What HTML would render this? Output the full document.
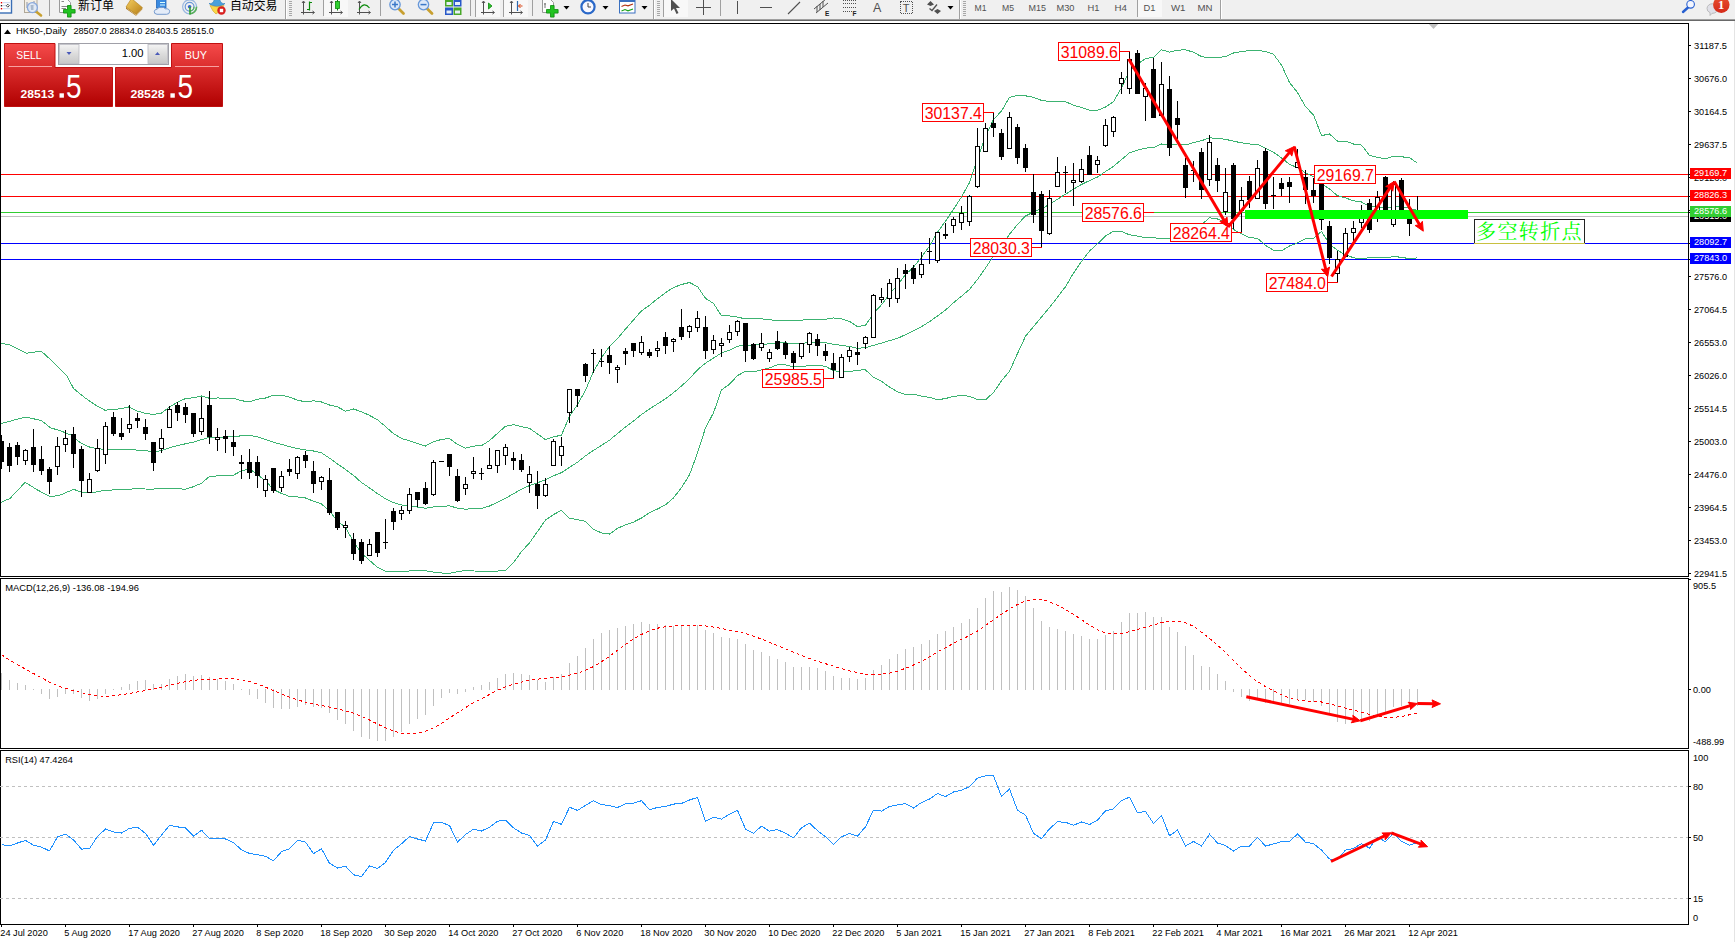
<!DOCTYPE html>
<html><head><meta charset="utf-8"><title>HK50-,Daily</title>
<style>html,body{margin:0;padding:0;background:#fff;}body{width:1735px;height:942px;overflow:hidden;position:relative;font-family:"Liberation Sans","Noto Sans CJK SC",sans-serif;}</style>
</head><body>
<svg width="1735" height="942" viewBox="0 0 1735 942" font-family="Liberation Sans, Noto Sans CJK SC, sans-serif" style="position:absolute;left:0;top:0">
<rect x="0" y="0" width="1735" height="942" fill="#fff"/>
<g id="toolbar">
<rect x="0" y="0" width="1735" height="19" fill="#f0f0f0"/>
<rect x="0" y="19" width="1735" height="1" fill="#a0a0a0" shape-rendering="crispEdges"/>
<rect x="0" y="20" width="1735" height="1" fill="#696969" shape-rendering="crispEdges"/>
<rect x="-1" y="-1" width="12.5" height="14" fill="#fff" stroke="#3a6eb5" stroke-width="1.4"/>
<rect x="0.8" y="2" width="1.4" height="1.4" fill="#e00"/><rect x="0.8" y="5" width="1.4" height="1.4" fill="#222"/><rect x="0.8" y="8" width="1.4" height="1.4" fill="#e00"/>
<path d="M3 2.7 H10 M3 5.7 H10 M3 8.7 H10" stroke="#b8ccee" stroke-width="0.8"/>
<path d="M7.8 4.2 L9.3 5.7 L7.8 7.2 L6.3 5.7 Z" fill="#fff" stroke="#222" stroke-width="0.8"/>
<rect x="24.5" y="-1" width="12.5" height="13.5" fill="#f4efe4" stroke="#b0a898" stroke-width="1"/>
<path d="M27 2 V8 M29 4 V10 M34 1 V6" stroke="#8c94a8" stroke-width="1"/>
<path d="M36 11.5 L41 15.5" stroke="#c8a030" stroke-width="2.6" stroke-linecap="round"/>
<circle cx="32.4" cy="7.6" r="5" fill="#dde9f8" fill-opacity="0.85" stroke="#88a8dc" stroke-width="1.3"/>
<path d="M30.5 5 h3 v5 h-2.5 z" fill="#a8b8cc"/>
<rect x="49" y="0" width="1" height="16" fill="#a0a0a0" shape-rendering="crispEdges"/>
<path d="M59.5 -1 H67 L70.5 2.5 V12.5 H59.5 Z" fill="#fcfcfc" stroke="#9a9a9a" stroke-width="1"/>
<path d="M61.5 1.5 H64 M61.5 6.5 H68 M61.5 8.5 H66" stroke="#888" stroke-width="1"/>
<path d="M67.5 5.5 h3.6 v4 h4 v3.6 h-4 v4 h-3.6 v-4 h-4 v-3.6 h4 z" fill="#22c322" stroke="#0a8a0a" stroke-width="0.8"/>
<text x="78" y="9.6" font-size="12" fill="#000" textLength="36" lengthAdjust="spacingAndGlyphs">新订单</text>
<defs><linearGradient id="gold" x1="0" y1="0" x2="1" y2="1"><stop offset="0" stop-color="#f6d060"/><stop offset="1" stop-color="#b88018"/></linearGradient></defs>
<path d="M126 7 L136 14 L142.3 7.5 L142.3 9.2 L136 15.8 L126 8.8 Z" fill="#a86c10"/>
<path d="M126.6 8 L136 14.8 L142 8.4" stroke="#f4e4a8" stroke-width="0.7" fill="none"/>
<path d="M131.5 -1.5 L142.3 7.5 L136 14 L126 7 Z" fill="url(#gold)" stroke="#b07c18" stroke-width="0.6"/>
<rect x="156.5" y="-1" width="9.5" height="9" fill="#3a8ae0" stroke="#2468b8" stroke-width="0.8"/>
<path d="M160 2.5 H165 M160 5 H165" stroke="#dff" stroke-width="1"/>
<path d="M157 14.3 Q153.8 14 154.3 11.3 Q154.8 9 157.3 9.2 Q158.5 6.6 161.5 7.6 Q163.5 6.6 165.4 8.8 Q169.6 8.4 169.6 11.6 Q169.6 14.3 166.6 14.3 Z" fill="#e4ecf8" stroke="#6890c8" stroke-width="0.9"/>
<g fill="none" stroke-width="1.2"><circle cx="189.6" cy="6.8" r="7" stroke="#9ab8e0"/><circle cx="189.6" cy="6.8" r="4.4" stroke="#6a98d8"/><path d="M189.6 13.8 A7 7 0 0 0 196.6 6.8" stroke="#58b058" stroke-width="1.6"/><path d="M189.6 11.2 A4.4 4.4 0 0 0 194 6.8" stroke="#58b058"/></g>
<circle cx="189.6" cy="6.8" r="1.8" fill="#3a68c8"/><path d="M190 7 V14.5" stroke="#30a030" stroke-width="1.6"/>
<path d="M209 3.5 Q213 4.5 214.5 -1 H219.5 Q221 4.5 225 3.5 Q222 6.5 217 6.5 Q212 6.5 209 3.5 Z" fill="#4aa0dc" stroke="#2a78b8" stroke-width="0.6"/>
<path d="M210 5.5 Q217 8 224 5.5 L220 11 L216 14 L213 11 Z" fill="#f8d848" stroke="#d0a020" stroke-width="0.6"/>
<circle cx="221.5" cy="10.5" r="4.2" fill="#d82020"/><rect x="219.8" y="8.8" width="3.4" height="3.4" fill="#fff"/>
<text x="230" y="9.6" font-size="12" fill="#000" textLength="47.5" lengthAdjust="spacingAndGlyphs">自动交易</text>
<rect x="285" y="0" width="1" height="19" fill="#a0a0a0" shape-rendering="crispEdges"/><rect x="286" y="0" width="1" height="19" fill="#fff" shape-rendering="crispEdges"/>
<rect x="289" y="1" width="3" height="1" fill="#a8a8a8" shape-rendering="crispEdges"/>
<rect x="289" y="3" width="3" height="1" fill="#a8a8a8" shape-rendering="crispEdges"/>
<rect x="289" y="5" width="3" height="1" fill="#a8a8a8" shape-rendering="crispEdges"/>
<rect x="289" y="7" width="3" height="1" fill="#a8a8a8" shape-rendering="crispEdges"/>
<rect x="289" y="9" width="3" height="1" fill="#a8a8a8" shape-rendering="crispEdges"/>
<rect x="289" y="11" width="3" height="1" fill="#a8a8a8" shape-rendering="crispEdges"/>
<rect x="289" y="13" width="3" height="1" fill="#a8a8a8" shape-rendering="crispEdges"/>
<rect x="289" y="15" width="3" height="1" fill="#a8a8a8" shape-rendering="crispEdges"/>
<g stroke="#505050" stroke-width="1" fill="none"><path d="M303.5 14.5 V1.5 M302 3 L303.5 1 L305 3 M301 12.5 H314 M312.5 11 L314.5 12.5 L312.5 14"/></g>
<path d="M309.5 1.5 V10.5 M309.5 2.5 H312 M307 9.5 H309.5" stroke="#0a8a0a" stroke-width="1.2" fill="none"/>
<rect x="323" y="0" width="1" height="16" fill="#a0a0a0" shape-rendering="crispEdges"/>
<rect x="324" y="0" width="24" height="17" fill="#f8f8f8"/>
<g stroke="#505050" stroke-width="1" fill="none"><path d="M331.5 14.5 V1.5 M330 3 L331.5 1 L333 3 M329 12.5 H342 M340.5 11 L342.5 12.5 L340.5 14"/></g>
<path d="M337.5 0 V10.5" stroke="#0a7a0a" stroke-width="1"/><rect x="335.5" y="1.5" width="4" height="7" fill="#30d030" stroke="#0a8a0a" stroke-width="0.8"/>
<g stroke="#505050" stroke-width="1" fill="none"><path d="M359.5 14.5 V1.5 M358 3 L359.5 1 L361 3 M357 12.5 H370 M368.5 11 L370.5 12.5 L368.5 14"/></g>
<path d="M359 9.5 Q364 1 369.5 8" stroke="#0a8a0a" stroke-width="1.2" fill="none"/>
<rect x="380" y="0" width="1" height="16" fill="#a0a0a0" shape-rendering="crispEdges"/>
<path d="M398.5 8.5 L403.5 13.5" stroke="#c8a030" stroke-width="2.8" stroke-linecap="round"/>
<circle cx="395" cy="4.6" r="5.2" fill="#dce8f8" stroke="#6898d8" stroke-width="1.3"/>
<path d="M392 4.6 H398 M395 1.6 V7.6" stroke="#3a78c8" stroke-width="1.5"/>
<path d="M427.0 8.5 L432.0 13.5" stroke="#c8a030" stroke-width="2.8" stroke-linecap="round"/>
<circle cx="423.5" cy="4.6" r="5.2" fill="#dce8f8" stroke="#6898d8" stroke-width="1.3"/>
<path d="M420.5 4.6 H426.5" stroke="#3a78c8" stroke-width="1.5"/>
<rect x="445" y="-1" width="8" height="7.5" fill="#48a828"/><rect x="446.5" y="2" width="5" height="3" fill="#e8f0f8"/>
<rect x="453.5" y="-1" width="8" height="7.5" fill="#2858c8"/><rect x="455.0" y="2" width="5" height="3" fill="#e8f0f8"/>
<rect x="445" y="7.5" width="8" height="7.5" fill="#2858c8"/><rect x="446.5" y="10.5" width="5" height="3" fill="#e8f0f8"/>
<rect x="453.5" y="7.5" width="8" height="7.5" fill="#48a828"/><rect x="455.0" y="10.5" width="5" height="3" fill="#e8f0f8"/>
<rect x="470" y="0" width="1" height="16" fill="#a0a0a0" shape-rendering="crispEdges"/>
<rect x="476" y="0" width="24" height="17" fill="#f8f8f8"/>
<rect x="475" y="0" width="1" height="17" fill="#a0a0a0" shape-rendering="crispEdges"/>
<g stroke="#505050" stroke-width="1" fill="none"><path d="M483.5 14.5 V1.5 M482 3 L483.5 1 L485 3 M481 12.5 H494 M492.5 11 L494.5 12.5 L492.5 14"/></g>
<path d="M488.5 3 L492 6 L488.5 9 Z" fill="#30c030" stroke="#0a8a0a" stroke-width="0.8"/>
<rect x="503" y="0" width="1" height="17" fill="#a0a0a0" shape-rendering="crispEdges"/>
<rect x="504" y="0" width="24" height="17" fill="#f8f8f8"/>
<g stroke="#505050" stroke-width="1" fill="none"><path d="M511.5 14.5 V1.5 M510 3 L511.5 1 L513 3 M509 12.5 H522 M520.5 11 L522.5 12.5 L520.5 14"/></g>
<path d="M517.5 1 V11" stroke="#2a68b0" stroke-width="1.2"/><path d="M518.5 6 H522.5 M520.5 4 L518.5 6 L520.5 8" stroke="#d84010" stroke-width="1" fill="none"/>
<rect x="532" y="0" width="1" height="16" fill="#a0a0a0" shape-rendering="crispEdges"/>
<path d="M542.5 -1 H550 L553.5 2.5 V12.5 H542.5 Z" fill="#fcfcfc" stroke="#9a9a9a" stroke-width="1"/>
<path d="M545 3 V8 M544 4 H546" stroke="#777" stroke-width="1"/>
<path d="M550.5 5.5 h3.6 v4 h4 v3.6 h-4 v4 h-3.6 v-4 h-4 v-3.6 h4 z" fill="#22c322" stroke="#0a8a0a" stroke-width="0.8"/>
<path d="M563.5 6 L569.5 6 L566.5 9.5 Z" fill="#000"/>
<circle cx="588" cy="6.8" r="6.6" fill="#f8f8ff" stroke="#2a68c8" stroke-width="2.2"/><path d="M588 3 V7 H591" stroke="#444" stroke-width="1" fill="none"/>
<path d="M602.5 6 L608.5 6 L605.5 9.5 Z" fill="#000"/>
<rect x="619.5" y="-1" width="15.5" height="14" fill="#fff" stroke="#3a70c0" stroke-width="1"/><rect x="619.5" y="-1" width="15.5" height="3" fill="#3a70c0"/>
<path d="M621.5 6.5 L625 5 L628 5.8 L633 4" stroke="#b03010" stroke-width="1.1" fill="none"/><path d="M621.5 11 L625 9.5 L628 10.8 L633 9" stroke="#18a018" stroke-width="1.1" fill="none"/>
<path d="M641.5 6 L647.5 6 L644.5 9.5 Z" fill="#000"/>
<rect x="653" y="0" width="1" height="19" fill="#a0a0a0" shape-rendering="crispEdges"/><rect x="654" y="0" width="1" height="19" fill="#fff" shape-rendering="crispEdges"/>
<rect x="657" y="1" width="3" height="1" fill="#a8a8a8" shape-rendering="crispEdges"/>
<rect x="657" y="3" width="3" height="1" fill="#a8a8a8" shape-rendering="crispEdges"/>
<rect x="657" y="5" width="3" height="1" fill="#a8a8a8" shape-rendering="crispEdges"/>
<rect x="657" y="7" width="3" height="1" fill="#a8a8a8" shape-rendering="crispEdges"/>
<rect x="657" y="9" width="3" height="1" fill="#a8a8a8" shape-rendering="crispEdges"/>
<rect x="657" y="11" width="3" height="1" fill="#a8a8a8" shape-rendering="crispEdges"/>
<rect x="657" y="13" width="3" height="1" fill="#a8a8a8" shape-rendering="crispEdges"/>
<rect x="657" y="15" width="3" height="1" fill="#a8a8a8" shape-rendering="crispEdges"/>
<rect x="664" y="0" width="24" height="17" fill="#f8f8f8"/>
<rect x="663" y="0" width="1" height="17" fill="#a0a0a0" shape-rendering="crispEdges"/>
<path d="M671 -1 V11 L674 8.5 L676.5 14 L678.5 13 L676 8 L680 8 Z" fill="#505050"/>
<path d="M703.5 0 V15 M696 7.5 H711" stroke="#505050" stroke-width="1" shape-rendering="crispEdges"/>
<rect x="720" y="0" width="1" height="16" fill="#a0a0a0" shape-rendering="crispEdges"/>
<path d="M737.5 1 V14 M760 7.5 H772" stroke="#505050" stroke-width="1" shape-rendering="crispEdges"/>
<path d="M788 14 L800 2" stroke="#505050" stroke-width="1.1"/>
<path d="M814 9 L826 -1 M816 13 L828 3 M817 6 V12 M820 4 V10 M823 1 V7" stroke="#505050" stroke-width="1"/>
<text x="825" y="15.5" font-size="6.5" font-weight="bold" fill="#222">E</text>
<path d="M843 0.5 H856 M843 3.5 H856 M843 7.5 H856 M843 11.5 H852" stroke="#505050" stroke-width="1" stroke-dasharray="1,1" shape-rendering="crispEdges"/>
<text x="852.5" y="15.5" font-size="6.5" font-weight="bold" fill="#222">F</text>
<text x="873" y="11.5" font-size="12.5" fill="#505050">A</text>
<rect x="900.5" y="1.5" width="11.5" height="12" fill="none" stroke="#505050" stroke-width="1" stroke-dasharray="1,1" shape-rendering="crispEdges"/>
<text x="906.2" y="11.5" font-size="11" fill="#505050" text-anchor="middle">T</text>
<path d="M930.5 1 L934 4.5 L930.5 6 L927 4.5 Z M937.5 9 L941 11 L937.5 14 L934 11 Z" fill="#505050"/><path d="M929.5 8.5 L932 10.5 L937 4.5" stroke="#505050" stroke-width="1.3" fill="none"/>
<path d="M947.5 6 L953.5 6 L950.5 9.5 Z" fill="#000"/>
<rect x="959" y="0" width="1" height="19" fill="#a0a0a0" shape-rendering="crispEdges"/><rect x="960" y="0" width="1" height="19" fill="#fff" shape-rendering="crispEdges"/>
<rect x="963" y="1" width="3" height="1" fill="#a8a8a8" shape-rendering="crispEdges"/>
<rect x="963" y="3" width="3" height="1" fill="#a8a8a8" shape-rendering="crispEdges"/>
<rect x="963" y="5" width="3" height="1" fill="#a8a8a8" shape-rendering="crispEdges"/>
<rect x="963" y="7" width="3" height="1" fill="#a8a8a8" shape-rendering="crispEdges"/>
<rect x="963" y="9" width="3" height="1" fill="#a8a8a8" shape-rendering="crispEdges"/>
<rect x="963" y="11" width="3" height="1" fill="#a8a8a8" shape-rendering="crispEdges"/>
<rect x="963" y="13" width="3" height="1" fill="#a8a8a8" shape-rendering="crispEdges"/>
<rect x="963" y="15" width="3" height="1" fill="#a8a8a8" shape-rendering="crispEdges"/>
<rect x="1138" y="0" width="24" height="17" fill="#f8f8f8"/>
<rect x="1137" y="0" width="1" height="17" fill="#a0a0a0" shape-rendering="crispEdges"/>
<text x="974.5" y="11" font-size="9.3" fill="#505050" textLength="12" lengthAdjust="spacingAndGlyphs">M1</text>
<text x="1002" y="11" font-size="9.3" fill="#505050" textLength="12" lengthAdjust="spacingAndGlyphs">M5</text>
<text x="1028.5" y="11" font-size="9.3" fill="#505050" textLength="17.5" lengthAdjust="spacingAndGlyphs">M15</text>
<text x="1056.5" y="11" font-size="9.3" fill="#505050" textLength="18" lengthAdjust="spacingAndGlyphs">M30</text>
<text x="1087.5" y="11" font-size="9.3" fill="#505050" textLength="12" lengthAdjust="spacingAndGlyphs">H1</text>
<text x="1114.5" y="11" font-size="9.3" fill="#505050" textLength="12.5" lengthAdjust="spacingAndGlyphs">H4</text>
<text x="1143.5" y="11" font-size="9.3" fill="#505050" textLength="12" lengthAdjust="spacingAndGlyphs">D1</text>
<text x="1171" y="11" font-size="9.3" fill="#505050" textLength="14.5" lengthAdjust="spacingAndGlyphs">W1</text>
<text x="1197.5" y="11" font-size="9.3" fill="#505050" textLength="15" lengthAdjust="spacingAndGlyphs">MN</text>
<rect x="1220" y="0" width="1" height="19" fill="#a0a0a0" shape-rendering="crispEdges"/><rect x="1221" y="0" width="1" height="19" fill="#fff" shape-rendering="crispEdges"/>
<path d="M1688 7.5 L1683 12" stroke="#2860d0" stroke-width="2.4" stroke-linecap="round"/><circle cx="1690.6" cy="4.3" r="3.8" fill="#f4f6ff" stroke="#2860d0" stroke-width="1.1"/>
<path d="M1707 8.5 a5.5 4.8 0 1 1 5 4.8 L1710 15.5 L1710 12.6 Q1707 11.5 1707 8.5 Z" fill="#e0e0e8" stroke="#b0b0b0" stroke-width="0.8"/>
<defs><linearGradient id="badge" x1="0" y1="0" x2="0" y2="1"><stop offset="0" stop-color="#e85030"/><stop offset="1" stop-color="#d42818"/></linearGradient></defs>
<circle cx="1721.3" cy="4.8" r="8.2" fill="url(#badge)"/>
<text x="1721" y="9" font-size="12.5" font-weight="bold" fill="#fff" text-anchor="middle" font-family="Liberation Serif, serif">1</text>
</g>
<rect x="1734" y="21" width="1" height="921" fill="#e4e4e4" shape-rendering="crispEdges"/>
<g id="frame" shape-rendering="crispEdges" fill="#000">
<rect x="0" y="23" width="1689" height="1"/>
<rect x="0" y="23" width="1" height="902"/>
<rect x="1688" y="23" width="1" height="902"/>
<rect x="0" y="576" width="1689" height="1"/>
<rect x="0" y="577" width="1689" height="1" fill="#fff"/>
<rect x="0" y="578" width="1689" height="1"/>
<rect x="0" y="748" width="1689" height="1"/>
<rect x="0" y="749" width="1689" height="1" fill="#fff"/>
<rect x="0" y="750" width="1689" height="1"/>
<rect x="0" y="924" width="1689" height="1"/>
</g>
<g id="hlines" shape-rendering="crispEdges">
<rect x="1" y="174" width="1687" height="1" fill="#f00"/>
<rect x="1" y="196" width="1687" height="1" fill="#f00"/>
<rect x="1" y="212" width="1687" height="1" fill="#32cd32"/>
<rect x="1" y="216" width="1687" height="1" fill="#c0c0c0"/>
<rect x="1" y="243" width="1687" height="1" fill="#00f"/>
<rect x="1" y="259" width="1687" height="1" fill="#00f"/>
</g>
<g id="bb" fill="none" stroke="#3cb371" stroke-width="1" shape-rendering="crispEdges">
<polyline points="1,343.1 10,345.1 26.2,353.2 41.3,351.2 52.4,361.3 66.6,375.4 73.6,388.5 84.7,397.6 94.8,404.6 104.9,410.2 121,408.7 129,406.9 137.6,411.2 145,413.2 153.5,414.5 161.5,413.1 169.5,406.9 177.5,402.2 185.5,398.5 193.5,397.8 201.5,396 209.5,398.3 217.5,398 225.5,398.1 233.5,398.2 241.5,400.7 249.5,401.9 257.5,399.3 265.5,398 273.5,395.3 281.5,395.1 289.5,397.1 297.5,400.2 305.5,401.8 313.5,400.8 321.5,402 329.5,405 337.5,406.9 345.5,411.2 353.5,409 361.5,411.7 369.5,415.4 377.5,419.8 385.5,426.5 393.5,433.7 401.5,438.4 409.5,440.9 417.5,443.5 425.5,446 433.5,441.8 441.5,439.4 449.5,438.6 457.5,444.4 465.5,448.2 473.5,446.1 481.5,445.7 489.5,440.6 497.5,433.3 505.5,426.3 513.5,424.6 521.5,426.7 529.5,428.3 537.5,434 545.5,439.6 553.5,436.9 561.5,435.1 569.5,416.4 577.5,404.6 585.5,390.2 593.5,371.4 601.5,357.8 609.5,346.3 617.5,338.7 625.5,329.1 633.5,319.9 641.5,310.9 649.5,305.2 657.5,298.7 665.5,292.7 673.5,287.5 681.5,284.5 689.5,282.5 697.5,286.6 705.5,298.3 713.5,303.4 721.5,315.9 729.5,316 737.5,317.1 745.5,318.9 753.5,318.8 761.5,318.9 769.5,319.6 777.5,321 785.5,320.9 793.5,320.1 801.5,320.2 809.5,319.4 817.5,319.4 825.5,319.2 833.5,318 841.5,318.8 849.5,321.4 857.5,326.6 865.5,325.4 873.5,313.5 881.5,304.7 889.5,294.2 897.5,285 905.5,274.6 913.5,267.1 921.5,257.1 929.5,246.1 937.5,232.1 945.5,221.3 953.5,209.3 961.5,196.9 969.5,182.6 977.5,159.2 985.5,136.3 993.5,119.4 1001.5,111.1 1009.5,97.3 1017.5,95.4 1025.5,95.8 1033.5,97.4 1041.5,100.4 1049.5,101.6 1057.5,101.1 1065.5,101.7 1073.5,105.3 1081.5,107.5 1089.5,110.2 1097.5,110.3 1105.5,107 1113.5,101.6 1121.5,87.8 1129.5,70.8 1137.5,64.3 1145.5,58.5 1153.5,57.4 1161.5,49.8 1169.5,52.1 1177.5,50.2 1185.5,49.8 1193.5,52.2 1201.5,56.6 1209.5,58 1217.5,57.6 1225.5,56.5 1233.5,53 1241.5,51.6 1249.5,50.5 1257.5,50.5 1265.5,51.4 1273.5,54.3 1281.5,65 1289.5,82.5 1297.5,92.5 1305.5,106.7 1313.5,114.9 1321.5,135.6 1329.5,134 1337.5,141.1 1345.5,141.1 1353.5,144 1361.5,145.1 1369.5,155.3 1377.5,157.4 1385.5,158.8 1393.5,156.3 1401.5,156.8 1409.5,157.6 1417.5,163.3"/>
<polyline points="1,423.4 10,421.2 25.2,417.1 41.3,420.4 50.4,427.8 60.5,430.8 70.6,434.9 80.7,443 90.8,447.6 104.9,449.6 127.4,449.4 145,450.6 153.5,451.8 161.5,450.6 169.5,447.8 177.5,445.6 185.5,443.8 193.5,442.2 201.5,439.6 209.5,437.4 217.5,437 225.5,437 233.5,436.6 241.5,435.8 249.5,435.5 257.5,436.8 265.5,439.5 273.5,442.3 281.5,444.3 289.5,446.7 297.5,448.6 305.5,449.9 313.5,451 321.5,452.9 329.5,458.1 337.5,463.9 345.5,469.4 353.5,475.4 361.5,482.5 369.5,487.9 377.5,493.6 385.5,498.8 393.5,502.6 401.5,504.9 409.5,505.9 417.5,507.1 425.5,508.3 433.5,506.9 441.5,506.2 449.5,505.9 457.5,508.1 465.5,509.2 473.5,508.5 481.5,508.4 489.5,506 497.5,502.2 505.5,498.3 513.5,493.7 521.5,489.1 529.5,485.6 537.5,482.8 545.5,479.8 553.5,475.8 561.5,472.6 569.5,467.4 577.5,462.2 585.5,455.8 593.5,450.4 601.5,445.4 609.5,440.2 617.5,433.5 625.5,427 633.5,421 641.5,414.5 649.5,409 657.5,403.9 665.5,398.8 673.5,392.7 681.5,386 689.5,378.6 697.5,369.8 705.5,363.1 713.5,358.1 721.5,352.9 729.5,350.1 737.5,346.3 745.5,345.1 753.5,345.3 761.5,344.4 769.5,343.8 777.5,342.9 785.5,342.9 793.5,343.5 801.5,343.5 809.5,342.4 817.5,342.3 825.5,342.8 833.5,344.3 841.5,345.3 849.5,346.5 857.5,348.3 865.5,347.7 873.5,345.4 881.5,343.1 889.5,340.6 897.5,338.4 905.5,334.6 913.5,330.6 921.5,326.6 929.5,321.7 937.5,315.9 945.5,310 953.5,302.8 961.5,296.2 969.5,289.4 977.5,279.4 985.5,268.1 993.5,256 1001.5,246 1009.5,234.3 1017.5,224.5 1025.5,216 1033.5,212 1041.5,208.7 1049.5,204.5 1057.5,199.2 1065.5,194.2 1073.5,189.2 1081.5,184.5 1089.5,180.6 1097.5,177 1105.5,171.5 1113.5,166.4 1121.5,159.6 1129.5,152.8 1137.5,150.2 1145.5,148.1 1153.5,147.7 1161.5,144 1169.5,145.5 1177.5,143.9 1185.5,144.9 1193.5,142.7 1201.5,140.7 1209.5,137.9 1217.5,138.3 1225.5,139.3 1233.5,141.2 1241.5,142.8 1249.5,144 1257.5,144.4 1265.5,148.4 1273.5,152.3 1281.5,157.9 1289.5,164.3 1297.5,167.7 1305.5,172.8 1313.5,176.7 1321.5,183.5 1329.5,189 1337.5,195.7 1345.5,197.9 1353.5,200.8 1361.5,202 1369.5,206.4 1377.5,207.2 1385.5,208.2 1393.5,206.5 1401.5,207 1409.5,208.2 1417.5,210.6"/>
<polyline points="1,502.4 10,498.4 25.2,482.3 36.3,489.3 49.4,496.4 58.5,495.8 73.6,489.3 81.7,492.4 90.8,493 104.9,490.2 127.4,489.6 137.6,488.3 145,489 153.5,489.1 161.5,488.1 169.5,488.7 177.5,488.9 185.5,489.1 193.5,486.7 201.5,483.2 209.5,476.5 217.5,475.9 225.5,475.9 233.5,475.1 241.5,470.9 249.5,469 257.5,474.4 265.5,481 273.5,489.4 281.5,493.5 289.5,496.4 297.5,496.9 305.5,498 313.5,501.2 321.5,503.9 329.5,511.3 337.5,520.9 345.5,527.5 353.5,541.8 361.5,553.2 369.5,560.3 377.5,567.4 385.5,571.1 393.5,571.4 401.5,571.3 409.5,571 417.5,570.8 425.5,570.7 433.5,572.1 441.5,573 449.5,573.3 457.5,571.8 465.5,570.3 473.5,571 481.5,571.1 489.5,571.5 497.5,571.1 505.5,570.3 513.5,562.7 521.5,551.6 529.5,542.9 537.5,531.5 545.5,520.1 553.5,514.6 561.5,510.2 569.5,518.3 577.5,519.7 585.5,521.3 593.5,529.3 601.5,532.9 609.5,534.1 617.5,528.3 625.5,524.9 633.5,522.1 641.5,518 649.5,512.8 657.5,509 665.5,504.9 673.5,497.9 681.5,487.6 689.5,474.8 697.5,453 705.5,427.9 713.5,412.8 721.5,389.9 729.5,384.2 737.5,375.6 745.5,371.3 753.5,371.8 761.5,369.8 769.5,367.9 777.5,364.8 785.5,364.9 793.5,366.8 801.5,366.9 809.5,365.4 817.5,365.2 825.5,366.4 833.5,370.6 841.5,371.9 849.5,371.7 857.5,370.1 865.5,369.9 873.5,377.3 881.5,381.4 889.5,387 897.5,391.8 905.5,394.6 913.5,394.1 921.5,396.2 929.5,397.3 937.5,399.7 945.5,398.6 953.5,396.3 961.5,395.6 969.5,396.2 977.5,399.7 985.5,399.8 993.5,392.5 1001.5,380.8 1009.5,371.3 1017.5,353.5 1025.5,336.3 1033.5,326.6 1041.5,317 1049.5,307.4 1057.5,297.3 1065.5,286.7 1073.5,273.1 1081.5,261.5 1089.5,251.1 1097.5,243.8 1105.5,236 1113.5,231.2 1121.5,231.5 1129.5,234.8 1137.5,236.1 1145.5,237.8 1153.5,237.9 1161.5,238.2 1169.5,238.9 1177.5,237.5 1185.5,240 1193.5,233.1 1201.5,224.7 1209.5,217.7 1217.5,219 1225.5,222 1233.5,229.4 1241.5,233.9 1249.5,237.6 1257.5,238.3 1265.5,245.3 1273.5,250.3 1281.5,250.8 1289.5,246 1297.5,242.9 1305.5,238.9 1313.5,238.5 1321.5,231.4 1329.5,244 1337.5,250.3 1345.5,254.8 1353.5,257.7 1361.5,259 1369.5,257.5 1377.5,257.1 1385.5,257.7 1393.5,256.7 1401.5,257.2 1409.5,258.8 1417.5,257.8"/>
</g>
<g id="candles" shape-rendering="crispEdges">
<rect x="1" y="435" width="1" height="34" fill="#000"/>
<rect x="-1" y="441" width="5" height="21" fill="#000"/>
<rect x="9" y="443" width="1" height="29" fill="#000"/>
<rect x="7" y="447" width="5" height="19" fill="#000"/>
<rect x="17" y="442" width="1" height="23" fill="#000"/>
<rect x="15" y="445" width="5" height="12" fill="#000"/>
<rect x="25" y="449" width="1" height="16" fill="#000"/>
<rect x="23" y="450" width="5" height="11" fill="#000"/>
<rect x="24" y="451" width="3" height="9" fill="#fff"/>
<rect x="33" y="429" width="1" height="43" fill="#000"/>
<rect x="31" y="447" width="5" height="18" fill="#000"/>
<rect x="41" y="446" width="1" height="29" fill="#000"/>
<rect x="39" y="459" width="5" height="12" fill="#000"/>
<rect x="49" y="467" width="1" height="27" fill="#000"/>
<rect x="47" y="469" width="5" height="13" fill="#000"/>
<rect x="57" y="437" width="1" height="38" fill="#000"/>
<rect x="55" y="446" width="5" height="21" fill="#000"/>
<rect x="56" y="447" width="3" height="19" fill="#fff"/>
<rect x="65" y="430" width="1" height="22" fill="#000"/>
<rect x="63" y="438" width="5" height="7" fill="#000"/>
<rect x="64" y="439" width="3" height="5" fill="#fff"/>
<rect x="73" y="427" width="1" height="41" fill="#000"/>
<rect x="71" y="434" width="5" height="20" fill="#000"/>
<rect x="81" y="446" width="1" height="51" fill="#000"/>
<rect x="79" y="449" width="5" height="32" fill="#000"/>
<rect x="89" y="473" width="1" height="20" fill="#000"/>
<rect x="87" y="479" width="5" height="14" fill="#000"/>
<rect x="88" y="480" width="3" height="12" fill="#fff"/>
<rect x="97" y="439" width="1" height="33" fill="#000"/>
<rect x="95" y="448" width="5" height="23" fill="#000"/>
<rect x="96" y="449" width="3" height="21" fill="#fff"/>
<rect x="105" y="422" width="1" height="42" fill="#000"/>
<rect x="103" y="426" width="5" height="29" fill="#000"/>
<rect x="104" y="427" width="3" height="27" fill="#fff"/>
<rect x="113" y="412" width="1" height="24" fill="#000"/>
<rect x="111" y="417" width="5" height="17" fill="#000"/>
<rect x="121" y="418" width="1" height="22" fill="#000"/>
<rect x="119" y="433" width="5" height="4" fill="#000"/>
<rect x="129" y="405" width="1" height="28" fill="#000"/>
<rect x="127" y="424" width="5" height="5" fill="#000"/>
<rect x="128" y="425" width="3" height="3" fill="#fff"/>
<rect x="137" y="413" width="1" height="15" fill="#000"/>
<rect x="135" y="418" width="5" height="3" fill="#000"/>
<rect x="145" y="419" width="1" height="21" fill="#000"/>
<rect x="143" y="427" width="5" height="7" fill="#000"/>
<rect x="153" y="442" width="1" height="29" fill="#000"/>
<rect x="151" y="442" width="5" height="21" fill="#000"/>
<rect x="161" y="429" width="1" height="24" fill="#000"/>
<rect x="159" y="438" width="5" height="11" fill="#000"/>
<rect x="160" y="439" width="3" height="9" fill="#fff"/>
<rect x="169" y="406" width="1" height="22" fill="#000"/>
<rect x="167" y="409" width="5" height="19" fill="#000"/>
<rect x="168" y="410" width="3" height="17" fill="#fff"/>
<rect x="177" y="402" width="1" height="19" fill="#000"/>
<rect x="175" y="405" width="5" height="8" fill="#000"/>
<rect x="185" y="403" width="1" height="20" fill="#000"/>
<rect x="183" y="407" width="5" height="8" fill="#000"/>
<rect x="193" y="413" width="1" height="24" fill="#000"/>
<rect x="191" y="413" width="5" height="21" fill="#000"/>
<rect x="201" y="397" width="1" height="38" fill="#000"/>
<rect x="199" y="418" width="5" height="14" fill="#000"/>
<rect x="200" y="419" width="3" height="12" fill="#fff"/>
<rect x="209" y="391" width="1" height="53" fill="#000"/>
<rect x="207" y="405" width="5" height="32" fill="#000"/>
<rect x="217" y="428" width="1" height="23" fill="#000"/>
<rect x="215" y="437" width="5" height="3" fill="#000"/>
<rect x="216" y="438" width="3" height="1" fill="#fff"/>
<rect x="225" y="430" width="1" height="23" fill="#000"/>
<rect x="223" y="436" width="5" height="3" fill="#000"/>
<rect x="233" y="430" width="1" height="26" fill="#000"/>
<rect x="231" y="442" width="5" height="5" fill="#000"/>
<rect x="241" y="455" width="1" height="24" fill="#000"/>
<rect x="239" y="462" width="5" height="2" fill="#000"/>
<rect x="249" y="449" width="1" height="30" fill="#000"/>
<rect x="247" y="462" width="5" height="11" fill="#000"/>
<rect x="257" y="456" width="1" height="32" fill="#000"/>
<rect x="255" y="462" width="5" height="14" fill="#000"/>
<rect x="265" y="475" width="1" height="22" fill="#000"/>
<rect x="263" y="479" width="5" height="12" fill="#000"/>
<rect x="264" y="480" width="3" height="10" fill="#fff"/>
<rect x="273" y="468" width="1" height="25" fill="#000"/>
<rect x="271" y="468" width="5" height="23" fill="#000"/>
<rect x="281" y="471" width="1" height="21" fill="#000"/>
<rect x="279" y="476" width="5" height="12" fill="#000"/>
<rect x="280" y="477" width="3" height="10" fill="#fff"/>
<rect x="289" y="459" width="1" height="17" fill="#000"/>
<rect x="287" y="469" width="5" height="3" fill="#000"/>
<rect x="297" y="456" width="1" height="23" fill="#000"/>
<rect x="295" y="457" width="5" height="17" fill="#000"/>
<rect x="296" y="458" width="3" height="15" fill="#fff"/>
<rect x="305" y="451" width="1" height="17" fill="#000"/>
<rect x="303" y="455" width="5" height="6" fill="#000"/>
<rect x="313" y="461" width="1" height="32" fill="#000"/>
<rect x="311" y="471" width="5" height="13" fill="#000"/>
<rect x="321" y="476" width="1" height="14" fill="#000"/>
<rect x="319" y="477" width="5" height="5" fill="#000"/>
<rect x="320" y="478" width="3" height="3" fill="#fff"/>
<rect x="329" y="468" width="1" height="47" fill="#000"/>
<rect x="327" y="480" width="5" height="33" fill="#000"/>
<rect x="337" y="512" width="1" height="18" fill="#000"/>
<rect x="335" y="512" width="5" height="16" fill="#000"/>
<rect x="345" y="521" width="1" height="17" fill="#000"/>
<rect x="343" y="525" width="5" height="3" fill="#000"/>
<rect x="344" y="526" width="3" height="1" fill="#fff"/>
<rect x="353" y="533" width="1" height="27" fill="#000"/>
<rect x="351" y="539" width="5" height="15" fill="#000"/>
<rect x="361" y="539" width="1" height="25" fill="#000"/>
<rect x="359" y="542" width="5" height="19" fill="#000"/>
<rect x="369" y="539" width="1" height="17" fill="#000"/>
<rect x="367" y="544" width="5" height="12" fill="#000"/>
<rect x="368" y="545" width="3" height="10" fill="#fff"/>
<rect x="377" y="532" width="1" height="25" fill="#000"/>
<rect x="375" y="532" width="5" height="21" fill="#000"/>
<rect x="385" y="519" width="1" height="30" fill="#000"/>
<rect x="383" y="542" width="5" height="1" fill="#000"/>
<rect x="393" y="508" width="1" height="22" fill="#000"/>
<rect x="391" y="511" width="5" height="11" fill="#000"/>
<rect x="401" y="506" width="1" height="14" fill="#000"/>
<rect x="399" y="510" width="5" height="4" fill="#000"/>
<rect x="400" y="511" width="3" height="2" fill="#fff"/>
<rect x="409" y="488" width="1" height="26" fill="#000"/>
<rect x="407" y="494" width="5" height="17" fill="#000"/>
<rect x="408" y="495" width="3" height="15" fill="#fff"/>
<rect x="417" y="492" width="1" height="15" fill="#000"/>
<rect x="415" y="492" width="5" height="8" fill="#000"/>
<rect x="425" y="482" width="1" height="23" fill="#000"/>
<rect x="423" y="488" width="5" height="16" fill="#000"/>
<rect x="433" y="460" width="1" height="36" fill="#000"/>
<rect x="431" y="462" width="5" height="33" fill="#000"/>
<rect x="432" y="463" width="3" height="31" fill="#fff"/>
<rect x="441" y="461" width="1" height="1" fill="#000"/>
<rect x="439" y="461" width="5" height="1" fill="#000"/>
<rect x="449" y="454" width="1" height="22" fill="#000"/>
<rect x="447" y="454" width="5" height="13" fill="#000"/>
<rect x="457" y="469" width="1" height="33" fill="#000"/>
<rect x="455" y="476" width="5" height="25" fill="#000"/>
<rect x="465" y="477" width="1" height="18" fill="#000"/>
<rect x="463" y="484" width="5" height="5" fill="#000"/>
<rect x="464" y="485" width="3" height="3" fill="#fff"/>
<rect x="473" y="457" width="1" height="22" fill="#000"/>
<rect x="471" y="471" width="5" height="3" fill="#000"/>
<rect x="472" y="472" width="3" height="1" fill="#fff"/>
<rect x="481" y="468" width="1" height="12" fill="#000"/>
<rect x="479" y="473" width="5" height="1" fill="#000"/>
<rect x="489" y="448" width="1" height="21" fill="#000"/>
<rect x="487" y="465" width="5" height="4" fill="#000"/>
<rect x="488" y="466" width="3" height="2" fill="#fff"/>
<rect x="497" y="450" width="1" height="23" fill="#000"/>
<rect x="495" y="450" width="5" height="16" fill="#000"/>
<rect x="496" y="451" width="3" height="14" fill="#fff"/>
<rect x="505" y="444" width="1" height="21" fill="#000"/>
<rect x="503" y="447" width="5" height="9" fill="#000"/>
<rect x="504" y="448" width="3" height="7" fill="#fff"/>
<rect x="513" y="452" width="1" height="18" fill="#000"/>
<rect x="511" y="458" width="5" height="3" fill="#000"/>
<rect x="521" y="454" width="1" height="18" fill="#000"/>
<rect x="519" y="460" width="5" height="10" fill="#000"/>
<rect x="529" y="466" width="1" height="27" fill="#000"/>
<rect x="527" y="474" width="5" height="9" fill="#000"/>
<rect x="528" y="475" width="3" height="7" fill="#fff"/>
<rect x="537" y="471" width="1" height="38" fill="#000"/>
<rect x="535" y="484" width="5" height="12" fill="#000"/>
<rect x="545" y="478" width="1" height="19" fill="#000"/>
<rect x="543" y="484" width="5" height="12" fill="#000"/>
<rect x="544" y="485" width="3" height="10" fill="#fff"/>
<rect x="553" y="439" width="1" height="27" fill="#000"/>
<rect x="551" y="441" width="5" height="25" fill="#000"/>
<rect x="552" y="442" width="3" height="23" fill="#fff"/>
<rect x="561" y="437" width="1" height="29" fill="#000"/>
<rect x="559" y="446" width="5" height="10" fill="#000"/>
<rect x="560" y="447" width="3" height="8" fill="#fff"/>
<rect x="569" y="389" width="1" height="34" fill="#000"/>
<rect x="567" y="389" width="5" height="24" fill="#000"/>
<rect x="568" y="390" width="3" height="22" fill="#fff"/>
<rect x="577" y="389" width="1" height="18" fill="#000"/>
<rect x="575" y="389" width="5" height="7" fill="#000"/>
<rect x="585" y="363" width="1" height="19" fill="#000"/>
<rect x="583" y="364" width="5" height="12" fill="#000"/>
<rect x="593" y="349" width="1" height="24" fill="#000"/>
<rect x="591" y="353" width="5" height="1" fill="#000"/>
<rect x="601" y="349" width="1" height="18" fill="#000"/>
<rect x="599" y="361" width="5" height="1" fill="#000"/>
<rect x="609" y="346" width="1" height="28" fill="#000"/>
<rect x="607" y="355" width="5" height="8" fill="#000"/>
<rect x="617" y="365" width="1" height="18" fill="#000"/>
<rect x="615" y="367" width="5" height="3" fill="#000"/>
<rect x="616" y="368" width="3" height="1" fill="#fff"/>
<rect x="625" y="348" width="1" height="17" fill="#000"/>
<rect x="623" y="351" width="5" height="3" fill="#000"/>
<rect x="633" y="343" width="1" height="14" fill="#000"/>
<rect x="631" y="343" width="5" height="8" fill="#000"/>
<rect x="641" y="336" width="1" height="19" fill="#000"/>
<rect x="639" y="342" width="5" height="11" fill="#000"/>
<rect x="640" y="343" width="3" height="9" fill="#fff"/>
<rect x="649" y="349" width="1" height="9" fill="#000"/>
<rect x="647" y="352" width="5" height="4" fill="#000"/>
<rect x="657" y="341" width="1" height="16" fill="#000"/>
<rect x="655" y="348" width="5" height="3" fill="#000"/>
<rect x="656" y="349" width="3" height="1" fill="#fff"/>
<rect x="665" y="332" width="1" height="22" fill="#000"/>
<rect x="663" y="337" width="5" height="9" fill="#000"/>
<rect x="673" y="338" width="1" height="14" fill="#000"/>
<rect x="671" y="339" width="5" height="3" fill="#000"/>
<rect x="672" y="340" width="3" height="1" fill="#fff"/>
<rect x="681" y="309" width="1" height="31" fill="#000"/>
<rect x="679" y="327" width="5" height="10" fill="#000"/>
<rect x="689" y="325" width="1" height="13" fill="#000"/>
<rect x="687" y="326" width="5" height="6" fill="#000"/>
<rect x="688" y="327" width="3" height="4" fill="#fff"/>
<rect x="697" y="311" width="1" height="21" fill="#000"/>
<rect x="695" y="318" width="5" height="10" fill="#000"/>
<rect x="696" y="319" width="3" height="8" fill="#fff"/>
<rect x="705" y="316" width="1" height="43" fill="#000"/>
<rect x="703" y="327" width="5" height="24" fill="#000"/>
<rect x="713" y="335" width="1" height="19" fill="#000"/>
<rect x="711" y="340" width="5" height="10" fill="#000"/>
<rect x="712" y="341" width="3" height="8" fill="#fff"/>
<rect x="721" y="338" width="1" height="19" fill="#000"/>
<rect x="719" y="343" width="5" height="3" fill="#000"/>
<rect x="720" y="344" width="3" height="1" fill="#fff"/>
<rect x="729" y="325" width="1" height="18" fill="#000"/>
<rect x="727" y="332" width="5" height="8" fill="#000"/>
<rect x="728" y="333" width="3" height="6" fill="#fff"/>
<rect x="737" y="320" width="1" height="16" fill="#000"/>
<rect x="735" y="321" width="5" height="11" fill="#000"/>
<rect x="736" y="322" width="3" height="9" fill="#fff"/>
<rect x="745" y="323" width="1" height="39" fill="#000"/>
<rect x="743" y="323" width="5" height="28" fill="#000"/>
<rect x="753" y="343" width="1" height="17" fill="#000"/>
<rect x="751" y="344" width="5" height="15" fill="#000"/>
<rect x="761" y="333" width="1" height="18" fill="#000"/>
<rect x="759" y="343" width="5" height="5" fill="#000"/>
<rect x="760" y="344" width="3" height="3" fill="#fff"/>
<rect x="769" y="349" width="1" height="13" fill="#000"/>
<rect x="767" y="352" width="5" height="7" fill="#000"/>
<rect x="768" y="353" width="3" height="5" fill="#fff"/>
<rect x="777" y="331" width="1" height="19" fill="#000"/>
<rect x="775" y="341" width="5" height="8" fill="#000"/>
<rect x="785" y="341" width="1" height="18" fill="#000"/>
<rect x="783" y="343" width="5" height="12" fill="#000"/>
<rect x="793" y="351" width="1" height="20" fill="#000"/>
<rect x="791" y="353" width="5" height="10" fill="#000"/>
<rect x="801" y="343" width="1" height="16" fill="#000"/>
<rect x="799" y="343" width="5" height="14" fill="#000"/>
<rect x="800" y="344" width="3" height="12" fill="#fff"/>
<rect x="809" y="332" width="1" height="21" fill="#000"/>
<rect x="807" y="333" width="5" height="12" fill="#000"/>
<rect x="808" y="334" width="3" height="10" fill="#fff"/>
<rect x="817" y="334" width="1" height="22" fill="#000"/>
<rect x="815" y="339" width="5" height="7" fill="#000"/>
<rect x="825" y="344" width="1" height="17" fill="#000"/>
<rect x="823" y="351" width="5" height="5" fill="#000"/>
<rect x="833" y="353" width="1" height="25" fill="#000"/>
<rect x="831" y="363" width="5" height="7" fill="#000"/>
<rect x="841" y="354" width="1" height="24" fill="#000"/>
<rect x="839" y="357" width="5" height="21" fill="#000"/>
<rect x="840" y="358" width="3" height="19" fill="#fff"/>
<rect x="849" y="347" width="1" height="15" fill="#000"/>
<rect x="847" y="350" width="5" height="7" fill="#000"/>
<rect x="848" y="351" width="3" height="5" fill="#fff"/>
<rect x="857" y="342" width="1" height="23" fill="#000"/>
<rect x="855" y="352" width="5" height="3" fill="#000"/>
<rect x="865" y="336" width="1" height="13" fill="#000"/>
<rect x="863" y="337" width="5" height="7" fill="#000"/>
<rect x="864" y="338" width="3" height="5" fill="#fff"/>
<rect x="873" y="294" width="1" height="44" fill="#000"/>
<rect x="871" y="295" width="5" height="43" fill="#000"/>
<rect x="872" y="296" width="3" height="41" fill="#fff"/>
<rect x="881" y="288" width="1" height="15" fill="#000"/>
<rect x="879" y="297" width="5" height="3" fill="#000"/>
<rect x="880" y="298" width="3" height="1" fill="#fff"/>
<rect x="889" y="279" width="1" height="28" fill="#000"/>
<rect x="887" y="283" width="5" height="16" fill="#000"/>
<rect x="888" y="284" width="3" height="14" fill="#fff"/>
<rect x="897" y="268" width="1" height="35" fill="#000"/>
<rect x="895" y="278" width="5" height="21" fill="#000"/>
<rect x="896" y="279" width="3" height="19" fill="#fff"/>
<rect x="905" y="264" width="1" height="25" fill="#000"/>
<rect x="903" y="270" width="5" height="4" fill="#000"/>
<rect x="913" y="265" width="1" height="19" fill="#000"/>
<rect x="911" y="268" width="5" height="11" fill="#000"/>
<rect x="921" y="252" width="1" height="26" fill="#000"/>
<rect x="919" y="264" width="5" height="11" fill="#000"/>
<rect x="920" y="265" width="3" height="9" fill="#fff"/>
<rect x="929" y="238" width="1" height="26" fill="#000"/>
<rect x="927" y="251" width="5" height="1" fill="#000"/>
<rect x="937" y="232" width="1" height="31" fill="#000"/>
<rect x="935" y="232" width="5" height="29" fill="#000"/>
<rect x="936" y="233" width="3" height="27" fill="#fff"/>
<rect x="945" y="223" width="1" height="16" fill="#000"/>
<rect x="943" y="234" width="5" height="2" fill="#000"/>
<rect x="953" y="217" width="1" height="16" fill="#000"/>
<rect x="951" y="219" width="5" height="7" fill="#000"/>
<rect x="952" y="220" width="3" height="5" fill="#fff"/>
<rect x="961" y="206" width="1" height="24" fill="#000"/>
<rect x="959" y="213" width="5" height="10" fill="#000"/>
<rect x="960" y="214" width="3" height="8" fill="#fff"/>
<rect x="969" y="195" width="1" height="31" fill="#000"/>
<rect x="967" y="196" width="5" height="26" fill="#000"/>
<rect x="968" y="197" width="3" height="24" fill="#fff"/>
<rect x="977" y="128" width="1" height="60" fill="#000"/>
<rect x="975" y="146" width="5" height="41" fill="#000"/>
<rect x="976" y="147" width="3" height="39" fill="#fff"/>
<rect x="985" y="123" width="1" height="29" fill="#000"/>
<rect x="983" y="128" width="5" height="24" fill="#000"/>
<rect x="984" y="129" width="3" height="22" fill="#fff"/>
<rect x="993" y="112" width="1" height="25" fill="#000"/>
<rect x="991" y="123" width="5" height="5" fill="#000"/>
<rect x="1001" y="129" width="1" height="31" fill="#000"/>
<rect x="999" y="133" width="5" height="24" fill="#000"/>
<rect x="1009" y="112" width="1" height="37" fill="#000"/>
<rect x="1007" y="117" width="5" height="32" fill="#000"/>
<rect x="1008" y="118" width="3" height="30" fill="#fff"/>
<rect x="1017" y="124" width="1" height="40" fill="#000"/>
<rect x="1015" y="127" width="5" height="31" fill="#000"/>
<rect x="1025" y="144" width="1" height="28" fill="#000"/>
<rect x="1023" y="148" width="5" height="20" fill="#000"/>
<rect x="1033" y="174" width="1" height="49" fill="#000"/>
<rect x="1031" y="192" width="5" height="23" fill="#000"/>
<rect x="1041" y="191" width="1" height="57" fill="#000"/>
<rect x="1039" y="194" width="5" height="37" fill="#000"/>
<rect x="1049" y="190" width="1" height="45" fill="#000"/>
<rect x="1047" y="198" width="5" height="36" fill="#000"/>
<rect x="1048" y="199" width="3" height="34" fill="#fff"/>
<rect x="1057" y="157" width="1" height="30" fill="#000"/>
<rect x="1055" y="172" width="5" height="15" fill="#000"/>
<rect x="1056" y="173" width="3" height="13" fill="#fff"/>
<rect x="1065" y="166" width="1" height="27" fill="#000"/>
<rect x="1063" y="172" width="5" height="1" fill="#000"/>
<rect x="1073" y="163" width="1" height="43" fill="#000"/>
<rect x="1071" y="180" width="5" height="3" fill="#000"/>
<rect x="1072" y="181" width="3" height="1" fill="#fff"/>
<rect x="1081" y="159" width="1" height="24" fill="#000"/>
<rect x="1079" y="169" width="5" height="13" fill="#000"/>
<rect x="1080" y="170" width="3" height="11" fill="#fff"/>
<rect x="1089" y="146" width="1" height="29" fill="#000"/>
<rect x="1087" y="155" width="5" height="20" fill="#000"/>
<rect x="1097" y="156" width="1" height="17" fill="#000"/>
<rect x="1095" y="160" width="5" height="5" fill="#000"/>
<rect x="1096" y="161" width="3" height="3" fill="#fff"/>
<rect x="1105" y="119" width="1" height="28" fill="#000"/>
<rect x="1103" y="125" width="5" height="21" fill="#000"/>
<rect x="1104" y="126" width="3" height="19" fill="#fff"/>
<rect x="1113" y="116" width="1" height="21" fill="#000"/>
<rect x="1111" y="117" width="5" height="15" fill="#000"/>
<rect x="1112" y="118" width="3" height="13" fill="#fff"/>
<rect x="1121" y="72" width="1" height="22" fill="#000"/>
<rect x="1119" y="78" width="5" height="6" fill="#000"/>
<rect x="1120" y="79" width="3" height="4" fill="#fff"/>
<rect x="1129" y="51" width="1" height="43" fill="#000"/>
<rect x="1127" y="59" width="5" height="30" fill="#000"/>
<rect x="1128" y="60" width="3" height="28" fill="#fff"/>
<rect x="1137" y="50" width="1" height="44" fill="#000"/>
<rect x="1135" y="53" width="5" height="41" fill="#000"/>
<rect x="1145" y="83" width="1" height="38" fill="#000"/>
<rect x="1143" y="88" width="5" height="9" fill="#000"/>
<rect x="1144" y="89" width="3" height="7" fill="#fff"/>
<rect x="1153" y="58" width="1" height="60" fill="#000"/>
<rect x="1151" y="69" width="5" height="49" fill="#000"/>
<rect x="1161" y="62" width="1" height="55" fill="#000"/>
<rect x="1159" y="84" width="5" height="32" fill="#000"/>
<rect x="1160" y="85" width="3" height="30" fill="#fff"/>
<rect x="1169" y="76" width="1" height="80" fill="#000"/>
<rect x="1167" y="89" width="5" height="59" fill="#000"/>
<rect x="1177" y="101" width="1" height="38" fill="#000"/>
<rect x="1175" y="118" width="5" height="7" fill="#000"/>
<rect x="1185" y="158" width="1" height="40" fill="#000"/>
<rect x="1183" y="165" width="5" height="23" fill="#000"/>
<rect x="1193" y="161" width="1" height="21" fill="#000"/>
<rect x="1191" y="170" width="5" height="1" fill="#000"/>
<rect x="1201" y="148" width="1" height="51" fill="#000"/>
<rect x="1199" y="152" width="5" height="38" fill="#000"/>
<rect x="1209" y="135" width="1" height="51" fill="#000"/>
<rect x="1207" y="142" width="5" height="38" fill="#000"/>
<rect x="1208" y="143" width="3" height="36" fill="#fff"/>
<rect x="1217" y="158" width="1" height="34" fill="#000"/>
<rect x="1215" y="165" width="5" height="16" fill="#000"/>
<rect x="1225" y="168" width="1" height="47" fill="#000"/>
<rect x="1223" y="192" width="5" height="20" fill="#000"/>
<rect x="1224" y="193" width="3" height="18" fill="#fff"/>
<rect x="1233" y="163" width="1" height="66" fill="#000"/>
<rect x="1231" y="165" width="5" height="54" fill="#000"/>
<rect x="1241" y="187" width="1" height="45" fill="#000"/>
<rect x="1239" y="200" width="5" height="11" fill="#000"/>
<rect x="1240" y="201" width="3" height="9" fill="#fff"/>
<rect x="1249" y="176" width="1" height="32" fill="#000"/>
<rect x="1247" y="181" width="5" height="19" fill="#000"/>
<rect x="1257" y="160" width="1" height="39" fill="#000"/>
<rect x="1255" y="168" width="5" height="31" fill="#000"/>
<rect x="1256" y="169" width="3" height="29" fill="#fff"/>
<rect x="1265" y="148" width="1" height="61" fill="#000"/>
<rect x="1263" y="151" width="5" height="53" fill="#000"/>
<rect x="1273" y="177" width="1" height="32" fill="#000"/>
<rect x="1271" y="195" width="5" height="1" fill="#000"/>
<rect x="1281" y="178" width="1" height="18" fill="#000"/>
<rect x="1279" y="183" width="5" height="6" fill="#000"/>
<rect x="1289" y="177" width="1" height="26" fill="#000"/>
<rect x="1287" y="182" width="5" height="5" fill="#000"/>
<rect x="1297" y="149" width="1" height="19" fill="#000"/>
<rect x="1295" y="162" width="5" height="6" fill="#000"/>
<rect x="1296" y="163" width="3" height="4" fill="#fff"/>
<rect x="1305" y="170" width="1" height="34" fill="#000"/>
<rect x="1303" y="177" width="5" height="13" fill="#000"/>
<rect x="1313" y="178" width="1" height="25" fill="#000"/>
<rect x="1311" y="190" width="5" height="6" fill="#000"/>
<rect x="1321" y="166" width="1" height="64" fill="#000"/>
<rect x="1319" y="184" width="5" height="36" fill="#000"/>
<rect x="1329" y="221" width="1" height="43" fill="#000"/>
<rect x="1327" y="226" width="5" height="32" fill="#000"/>
<rect x="1337" y="251" width="1" height="32" fill="#000"/>
<rect x="1335" y="259" width="5" height="15" fill="#000"/>
<rect x="1336" y="260" width="3" height="13" fill="#fff"/>
<rect x="1345" y="228" width="1" height="29" fill="#000"/>
<rect x="1343" y="233" width="5" height="24" fill="#000"/>
<rect x="1344" y="234" width="3" height="22" fill="#fff"/>
<rect x="1353" y="221" width="1" height="20" fill="#000"/>
<rect x="1351" y="228" width="5" height="5" fill="#000"/>
<rect x="1352" y="229" width="3" height="3" fill="#fff"/>
<rect x="1361" y="205" width="1" height="23" fill="#000"/>
<rect x="1359" y="215" width="5" height="8" fill="#000"/>
<rect x="1360" y="216" width="3" height="6" fill="#fff"/>
<rect x="1369" y="199" width="1" height="34" fill="#000"/>
<rect x="1367" y="203" width="5" height="27" fill="#000"/>
<rect x="1377" y="191" width="1" height="31" fill="#000"/>
<rect x="1375" y="197" width="5" height="18" fill="#000"/>
<rect x="1376" y="198" width="3" height="16" fill="#fff"/>
<rect x="1385" y="176" width="1" height="36" fill="#000"/>
<rect x="1383" y="177" width="5" height="35" fill="#000"/>
<rect x="1393" y="181" width="1" height="46" fill="#000"/>
<rect x="1391" y="184" width="5" height="41" fill="#000"/>
<rect x="1392" y="185" width="3" height="39" fill="#fff"/>
<rect x="1401" y="178" width="1" height="33" fill="#000"/>
<rect x="1399" y="180" width="5" height="31" fill="#000"/>
<rect x="1409" y="199" width="1" height="37" fill="#000"/>
<rect x="1407" y="215" width="5" height="9" fill="#000"/>
<rect x="1417" y="196" width="1" height="27" fill="#000"/>
<rect x="1415" y="216" width="5" height="1" fill="#000"/>
</g>
<g id="macd" shape-rendering="crispEdges">
<rect x="1" y="673" width="1" height="17" fill="#c0c0c0"/>
<rect x="9" y="680" width="1" height="10" fill="#c0c0c0"/>
<rect x="17" y="683" width="1" height="7" fill="#c0c0c0"/>
<rect x="25" y="685" width="1" height="5" fill="#c0c0c0"/>
<rect x="33" y="689" width="1" height="1" fill="#c0c0c0"/>
<rect x="41" y="689" width="1" height="5" fill="#c0c0c0"/>
<rect x="49" y="689" width="1" height="10" fill="#c0c0c0"/>
<rect x="57" y="689" width="1" height="8" fill="#c0c0c0"/>
<rect x="65" y="689" width="1" height="5" fill="#c0c0c0"/>
<rect x="73" y="689" width="1" height="5" fill="#c0c0c0"/>
<rect x="81" y="689" width="1" height="9" fill="#c0c0c0"/>
<rect x="89" y="689" width="1" height="12" fill="#c0c0c0"/>
<rect x="97" y="689" width="1" height="10" fill="#c0c0c0"/>
<rect x="105" y="689" width="1" height="5" fill="#c0c0c0"/>
<rect x="113" y="689" width="1" height="1" fill="#c0c0c0"/>
<rect x="121" y="687" width="1" height="3" fill="#c0c0c0"/>
<rect x="129" y="684" width="1" height="6" fill="#c0c0c0"/>
<rect x="137" y="681" width="1" height="9" fill="#c0c0c0"/>
<rect x="145" y="680" width="1" height="10" fill="#c0c0c0"/>
<rect x="153" y="684" width="1" height="6" fill="#c0c0c0"/>
<rect x="161" y="684" width="1" height="6" fill="#c0c0c0"/>
<rect x="169" y="679" width="1" height="11" fill="#c0c0c0"/>
<rect x="177" y="676" width="1" height="14" fill="#c0c0c0"/>
<rect x="185" y="674" width="1" height="16" fill="#c0c0c0"/>
<rect x="193" y="676" width="1" height="14" fill="#c0c0c0"/>
<rect x="201" y="675" width="1" height="15" fill="#c0c0c0"/>
<rect x="209" y="677" width="1" height="13" fill="#c0c0c0"/>
<rect x="217" y="679" width="1" height="11" fill="#c0c0c0"/>
<rect x="225" y="681" width="1" height="9" fill="#c0c0c0"/>
<rect x="233" y="684" width="1" height="6" fill="#c0c0c0"/>
<rect x="241" y="689" width="1" height="1" fill="#c0c0c0"/>
<rect x="249" y="689" width="1" height="6" fill="#c0c0c0"/>
<rect x="257" y="689" width="1" height="10" fill="#c0c0c0"/>
<rect x="265" y="689" width="1" height="14" fill="#c0c0c0"/>
<rect x="273" y="689" width="1" height="19" fill="#c0c0c0"/>
<rect x="281" y="689" width="1" height="20" fill="#c0c0c0"/>
<rect x="289" y="689" width="1" height="20" fill="#c0c0c0"/>
<rect x="297" y="689" width="1" height="18" fill="#c0c0c0"/>
<rect x="305" y="689" width="1" height="16" fill="#c0c0c0"/>
<rect x="313" y="689" width="1" height="18" fill="#c0c0c0"/>
<rect x="321" y="689" width="1" height="19" fill="#c0c0c0"/>
<rect x="329" y="689" width="1" height="24" fill="#c0c0c0"/>
<rect x="337" y="689" width="1" height="31" fill="#c0c0c0"/>
<rect x="345" y="689" width="1" height="35" fill="#c0c0c0"/>
<rect x="353" y="689" width="1" height="42" fill="#c0c0c0"/>
<rect x="361" y="689" width="1" height="48" fill="#c0c0c0"/>
<rect x="369" y="689" width="1" height="50" fill="#c0c0c0"/>
<rect x="377" y="689" width="1" height="52" fill="#c0c0c0"/>
<rect x="385" y="689" width="1" height="52" fill="#c0c0c0"/>
<rect x="393" y="689" width="1" height="48" fill="#c0c0c0"/>
<rect x="401" y="689" width="1" height="43" fill="#c0c0c0"/>
<rect x="409" y="689" width="1" height="35" fill="#c0c0c0"/>
<rect x="417" y="689" width="1" height="30" fill="#c0c0c0"/>
<rect x="425" y="689" width="1" height="26" fill="#c0c0c0"/>
<rect x="433" y="689" width="1" height="17" fill="#c0c0c0"/>
<rect x="441" y="689" width="1" height="9" fill="#c0c0c0"/>
<rect x="449" y="689" width="1" height="4" fill="#c0c0c0"/>
<rect x="457" y="689" width="1" height="5" fill="#c0c0c0"/>
<rect x="465" y="689" width="1" height="3" fill="#c0c0c0"/>
<rect x="473" y="687" width="1" height="3" fill="#c0c0c0"/>
<rect x="481" y="685" width="1" height="5" fill="#c0c0c0"/>
<rect x="489" y="682" width="1" height="8" fill="#c0c0c0"/>
<rect x="497" y="678" width="1" height="12" fill="#c0c0c0"/>
<rect x="505" y="674" width="1" height="16" fill="#c0c0c0"/>
<rect x="513" y="673" width="1" height="17" fill="#c0c0c0"/>
<rect x="521" y="674" width="1" height="16" fill="#c0c0c0"/>
<rect x="529" y="675" width="1" height="15" fill="#c0c0c0"/>
<rect x="537" y="680" width="1" height="10" fill="#c0c0c0"/>
<rect x="545" y="682" width="1" height="8" fill="#c0c0c0"/>
<rect x="553" y="677" width="1" height="13" fill="#c0c0c0"/>
<rect x="561" y="674" width="1" height="16" fill="#c0c0c0"/>
<rect x="569" y="663" width="1" height="27" fill="#c0c0c0"/>
<rect x="577" y="656" width="1" height="34" fill="#c0c0c0"/>
<rect x="585" y="648" width="1" height="42" fill="#c0c0c0"/>
<rect x="593" y="639" width="1" height="51" fill="#c0c0c0"/>
<rect x="601" y="633" width="1" height="57" fill="#c0c0c0"/>
<rect x="609" y="630" width="1" height="60" fill="#c0c0c0"/>
<rect x="617" y="628" width="1" height="62" fill="#c0c0c0"/>
<rect x="625" y="626" width="1" height="64" fill="#c0c0c0"/>
<rect x="633" y="624" width="1" height="66" fill="#c0c0c0"/>
<rect x="641" y="622" width="1" height="68" fill="#c0c0c0"/>
<rect x="649" y="624" width="1" height="66" fill="#c0c0c0"/>
<rect x="657" y="624" width="1" height="66" fill="#c0c0c0"/>
<rect x="665" y="625" width="1" height="65" fill="#c0c0c0"/>
<rect x="673" y="626" width="1" height="64" fill="#c0c0c0"/>
<rect x="681" y="626" width="1" height="64" fill="#c0c0c0"/>
<rect x="689" y="626" width="1" height="64" fill="#c0c0c0"/>
<rect x="697" y="625" width="1" height="65" fill="#c0c0c0"/>
<rect x="705" y="630" width="1" height="60" fill="#c0c0c0"/>
<rect x="713" y="633" width="1" height="57" fill="#c0c0c0"/>
<rect x="721" y="637" width="1" height="53" fill="#c0c0c0"/>
<rect x="729" y="638" width="1" height="52" fill="#c0c0c0"/>
<rect x="737" y="639" width="1" height="51" fill="#c0c0c0"/>
<rect x="745" y="644" width="1" height="46" fill="#c0c0c0"/>
<rect x="753" y="650" width="1" height="40" fill="#c0c0c0"/>
<rect x="761" y="652" width="1" height="38" fill="#c0c0c0"/>
<rect x="769" y="656" width="1" height="34" fill="#c0c0c0"/>
<rect x="777" y="659" width="1" height="31" fill="#c0c0c0"/>
<rect x="785" y="662" width="1" height="28" fill="#c0c0c0"/>
<rect x="793" y="667" width="1" height="23" fill="#c0c0c0"/>
<rect x="801" y="667" width="1" height="23" fill="#c0c0c0"/>
<rect x="809" y="667" width="1" height="23" fill="#c0c0c0"/>
<rect x="817" y="668" width="1" height="22" fill="#c0c0c0"/>
<rect x="825" y="671" width="1" height="19" fill="#c0c0c0"/>
<rect x="833" y="676" width="1" height="14" fill="#c0c0c0"/>
<rect x="841" y="678" width="1" height="12" fill="#c0c0c0"/>
<rect x="849" y="678" width="1" height="12" fill="#c0c0c0"/>
<rect x="857" y="679" width="1" height="11" fill="#c0c0c0"/>
<rect x="865" y="678" width="1" height="12" fill="#c0c0c0"/>
<rect x="873" y="670" width="1" height="20" fill="#c0c0c0"/>
<rect x="881" y="665" width="1" height="25" fill="#c0c0c0"/>
<rect x="889" y="659" width="1" height="31" fill="#c0c0c0"/>
<rect x="897" y="654" width="1" height="36" fill="#c0c0c0"/>
<rect x="905" y="649" width="1" height="41" fill="#c0c0c0"/>
<rect x="913" y="647" width="1" height="43" fill="#c0c0c0"/>
<rect x="921" y="644" width="1" height="46" fill="#c0c0c0"/>
<rect x="929" y="640" width="1" height="50" fill="#c0c0c0"/>
<rect x="937" y="634" width="1" height="56" fill="#c0c0c0"/>
<rect x="945" y="631" width="1" height="59" fill="#c0c0c0"/>
<rect x="953" y="627" width="1" height="63" fill="#c0c0c0"/>
<rect x="961" y="623" width="1" height="67" fill="#c0c0c0"/>
<rect x="969" y="619" width="1" height="71" fill="#c0c0c0"/>
<rect x="977" y="608" width="1" height="82" fill="#c0c0c0"/>
<rect x="985" y="598" width="1" height="92" fill="#c0c0c0"/>
<rect x="993" y="591" width="1" height="99" fill="#c0c0c0"/>
<rect x="1001" y="592" width="1" height="98" fill="#c0c0c0"/>
<rect x="1009" y="587" width="1" height="103" fill="#c0c0c0"/>
<rect x="1017" y="590" width="1" height="100" fill="#c0c0c0"/>
<rect x="1025" y="596" width="1" height="94" fill="#c0c0c0"/>
<rect x="1033" y="608" width="1" height="82" fill="#c0c0c0"/>
<rect x="1041" y="621" width="1" height="69" fill="#c0c0c0"/>
<rect x="1049" y="627" width="1" height="63" fill="#c0c0c0"/>
<rect x="1057" y="629" width="1" height="61" fill="#c0c0c0"/>
<rect x="1065" y="631" width="1" height="59" fill="#c0c0c0"/>
<rect x="1073" y="634" width="1" height="56" fill="#c0c0c0"/>
<rect x="1081" y="636" width="1" height="54" fill="#c0c0c0"/>
<rect x="1089" y="639" width="1" height="51" fill="#c0c0c0"/>
<rect x="1097" y="639" width="1" height="51" fill="#c0c0c0"/>
<rect x="1105" y="635" width="1" height="55" fill="#c0c0c0"/>
<rect x="1113" y="631" width="1" height="59" fill="#c0c0c0"/>
<rect x="1121" y="622" width="1" height="68" fill="#c0c0c0"/>
<rect x="1129" y="613" width="1" height="77" fill="#c0c0c0"/>
<rect x="1137" y="613" width="1" height="77" fill="#c0c0c0"/>
<rect x="1145" y="612" width="1" height="78" fill="#c0c0c0"/>
<rect x="1153" y="617" width="1" height="73" fill="#c0c0c0"/>
<rect x="1161" y="617" width="1" height="73" fill="#c0c0c0"/>
<rect x="1169" y="627" width="1" height="63" fill="#c0c0c0"/>
<rect x="1177" y="632" width="1" height="58" fill="#c0c0c0"/>
<rect x="1185" y="646" width="1" height="44" fill="#c0c0c0"/>
<rect x="1193" y="655" width="1" height="35" fill="#c0c0c0"/>
<rect x="1201" y="666" width="1" height="24" fill="#c0c0c0"/>
<rect x="1209" y="667" width="1" height="23" fill="#c0c0c0"/>
<rect x="1217" y="674" width="1" height="16" fill="#c0c0c0"/>
<rect x="1225" y="681" width="1" height="9" fill="#c0c0c0"/>
<rect x="1233" y="689" width="1" height="3" fill="#c0c0c0"/>
<rect x="1241" y="689" width="1" height="8" fill="#c0c0c0"/>
<rect x="1249" y="689" width="1" height="12" fill="#c0c0c0"/>
<rect x="1257" y="689" width="1" height="10" fill="#c0c0c0"/>
<rect x="1265" y="689" width="1" height="14" fill="#c0c0c0"/>
<rect x="1273" y="689" width="1" height="15" fill="#c0c0c0"/>
<rect x="1281" y="689" width="1" height="15" fill="#c0c0c0"/>
<rect x="1289" y="689" width="1" height="15" fill="#c0c0c0"/>
<rect x="1297" y="689" width="1" height="11" fill="#c0c0c0"/>
<rect x="1305" y="689" width="1" height="11" fill="#c0c0c0"/>
<rect x="1313" y="689" width="1" height="13" fill="#c0c0c0"/>
<rect x="1321" y="689" width="1" height="17" fill="#c0c0c0"/>
<rect x="1329" y="689" width="1" height="26" fill="#c0c0c0"/>
<rect x="1337" y="689" width="1" height="33" fill="#c0c0c0"/>
<rect x="1345" y="689" width="1" height="35" fill="#c0c0c0"/>
<rect x="1353" y="689" width="1" height="34" fill="#c0c0c0"/>
<rect x="1361" y="689" width="1" height="32" fill="#c0c0c0"/>
<rect x="1369" y="689" width="1" height="32" fill="#c0c0c0"/>
<rect x="1377" y="689" width="1" height="27" fill="#c0c0c0"/>
<rect x="1385" y="689" width="1" height="24" fill="#c0c0c0"/>
<rect x="1393" y="689" width="1" height="18" fill="#c0c0c0"/>
<rect x="1401" y="689" width="1" height="17" fill="#c0c0c0"/>
<rect x="1409" y="689" width="1" height="18" fill="#c0c0c0"/>
<rect x="1417" y="689" width="1" height="17" fill="#c0c0c0"/>
<polyline fill="none" stroke="#f00" stroke-width="1" stroke-dasharray="3,3" points="1.5,654.8 9.5,659.8 17.5,664.6 25.5,669.1 33.5,673.5 41.5,677.8 49.5,682.1 57.5,685.7 65.5,688.4 73.5,690.6 81.5,692.6 89.5,694.5 97.5,695.9 105.5,696.2 113.5,695.8 121.5,694.7 129.5,693.4 137.5,692 145.5,690.5 153.5,689.1 161.5,687.2 169.5,685.2 177.5,683.4 185.5,681.7 193.5,680.4 201.5,679.5 209.5,679.1 217.5,679 225.5,678.6 233.5,678.6 241.5,679.6 249.5,681.6 257.5,684.2 265.5,687.1 273.5,690.6 281.5,694 289.5,697.2 297.5,699.9 305.5,702.1 313.5,704.1 321.5,705.6 329.5,707.1 337.5,709 345.5,710.8 353.5,713.2 361.5,716.4 369.5,720 377.5,724 385.5,727.8 393.5,731 401.5,733.1 409.5,733.6 417.5,733.1 425.5,731.4 433.5,727.9 441.5,723.3 449.5,717.9 457.5,712.7 465.5,707.6 473.5,702.8 481.5,698.6 489.5,694.5 497.5,690.4 505.5,686.9 513.5,684.2 521.5,682.2 529.5,680.3 537.5,679.1 545.5,678.5 553.5,677.6 561.5,676.7 569.5,675.1 577.5,673.2 585.5,670.4 593.5,666.5 601.5,661.8 609.5,656.3 617.5,650.3 625.5,644.6 633.5,639 641.5,634.5 649.5,630.9 657.5,628.2 665.5,626.7 673.5,625.9 681.5,625.5 689.5,625.2 697.5,625.2 705.5,625.9 713.5,627.1 721.5,628.5 729.5,630.1 737.5,631.6 745.5,633.6 753.5,636.2 761.5,639.1 769.5,642.5 777.5,645.7 785.5,648.9 793.5,652.3 801.5,655.5 809.5,658.6 817.5,661.3 825.5,663.7 833.5,666.3 841.5,668.7 849.5,670.8 857.5,672.7 865.5,674 873.5,674.3 881.5,674.2 889.5,673.1 897.5,671.2 905.5,668.3 913.5,665 921.5,661.2 929.5,656.8 937.5,652 945.5,647.6 953.5,643.4 961.5,639.4 969.5,635.6 977.5,631 985.5,625.5 993.5,619.7 1001.5,614.3 1009.5,609 1017.5,604.4 1025.5,601 1033.5,599.3 1041.5,599.6 1049.5,601.8 1057.5,605.2 1065.5,609.5 1073.5,614.3 1081.5,619.7 1089.5,625.1 1097.5,629.9 1105.5,632.8 1113.5,633.9 1121.5,633.3 1129.5,631.6 1137.5,629.6 1145.5,627.1 1153.5,625.1 1161.5,622.6 1169.5,621.3 1177.5,621 1185.5,622.8 1193.5,626.4 1201.5,632.3 1209.5,638.3 1217.5,645.2 1225.5,652.3 1233.5,660.6 1241.5,668.3 1249.5,675.8 1257.5,681.6 1265.5,686.7 1273.5,690.9 1281.5,694.9 1289.5,698.1 1297.5,700 1305.5,700.9 1313.5,701.4 1321.5,702 1329.5,703.8 1337.5,706 1345.5,708.1 1353.5,710.2 1361.5,712.1 1369.5,714.5 1377.5,716.2 1385.5,717.5 1393.5,717.5 1401.5,716.5 1409.5,714.8 1417.5,712.9"/>
</g>
<g id="rsi" shape-rendering="crispEdges">
<line x1="0" x2="1688" y1="786.5" y2="786.5" stroke="#c0c0c0" stroke-width="1" stroke-dasharray="3,3"/>
<line x1="0" x2="1688" y1="837.5" y2="837.5" stroke="#c0c0c0" stroke-width="1" stroke-dasharray="3,3"/>
<line x1="0" x2="1688" y1="898.5" y2="898.5" stroke="#c0c0c0" stroke-width="1" stroke-dasharray="3,3"/>
<polyline fill="none" stroke="#1e90ff" stroke-width="1" points="1.5,844.7 9.5,845.9 17.5,843 25.5,840.4 33.5,845.2 41.5,847.2 49.5,850.9 57.5,836.9 65.5,834.1 73.5,839.9 81.5,849.1 89.5,848.5 97.5,836.4 105.5,829 113.5,831.9 121.5,833.1 129.5,828.3 137.5,827.3 145.5,833.4 153.5,845.3 161.5,835.1 169.5,825.4 177.5,826.9 185.5,827.8 193.5,836.2 201.5,830.2 209.5,838.2 217.5,838.5 225.5,839 233.5,842.7 241.5,849.8 249.5,853.5 257.5,854.7 265.5,856.2 273.5,860.9 281.5,851.6 289.5,848.8 297.5,840.3 305.5,842.1 313.5,853.6 321.5,848.8 329.5,863.3 337.5,868 345.5,866.1 353.5,874.8 361.5,876.6 369.5,866 377.5,868.5 385.5,862.4 393.5,850.2 401.5,843.8 409.5,836.5 417.5,839 425.5,841 433.5,822.8 441.5,822.6 449.5,825.4 457.5,842.1 465.5,834.5 473.5,829.2 481.5,831 489.5,827.2 497.5,821.3 505.5,820.1 513.5,827.8 521.5,833 529.5,835.5 537.5,846.1 545.5,840.1 553.5,821.3 561.5,824.4 569.5,807.2 577.5,810.4 585.5,805.4 593.5,800.6 601.5,804.6 609.5,805.6 617.5,807.5 625.5,803.8 633.5,803.2 641.5,800.7 649.5,809.8 657.5,807.4 665.5,806.5 673.5,804.1 681.5,803.4 689.5,800 697.5,797.4 705.5,821.3 713.5,817.1 721.5,819.1 729.5,814.2 737.5,810.2 745.5,829 753.5,833.4 761.5,826.1 769.5,831.2 777.5,829.6 785.5,833.3 793.5,837.9 801.5,827.8 809.5,823.1 817.5,830.7 825.5,836.7 833.5,844.2 841.5,836.8 849.5,833.5 857.5,836.1 865.5,826.8 873.5,810.1 881.5,811.1 889.5,806.5 897.5,804.9 905.5,803.6 913.5,808 921.5,802.5 929.5,799 937.5,793.5 945.5,796.6 953.5,792 961.5,790.3 969.5,786.6 977.5,778.1 985.5,775.8 993.5,775.8 1001.5,796.5 1009.5,789 1017.5,810.3 1025.5,815.1 1033.5,833.3 1041.5,838.7 1049.5,828.8 1057.5,821.8 1065.5,822.3 1073.5,825.2 1081.5,822 1089.5,824.6 1097.5,820.1 1105.5,810.8 1113.5,808.8 1121.5,800.5 1129.5,797.2 1137.5,812.8 1145.5,811.4 1153.5,823.5 1161.5,815.3 1169.5,835.8 1177.5,830.1 1185.5,846.1 1193.5,841.4 1201.5,846 1209.5,834.2 1217.5,843 1225.5,845.5 1233.5,851.1 1241.5,846 1249.5,846 1257.5,837.4 1265.5,846.1 1273.5,843.9 1281.5,841.7 1289.5,841.2 1297.5,834.1 1305.5,842.2 1313.5,843.7 1321.5,850.1 1329.5,859 1337.5,859.1 1345.5,850.1 1353.5,848.4 1361.5,843.7 1369.5,848.1 1377.5,837.1 1385.5,841.8 1393.5,833 1401.5,841.4 1409.5,845.1 1417.5,842.5"/>
</g>
<g id="overlays">
<rect x="824" y="378" width="10" height="1" fill="#f00" shape-rendering="crispEdges"/><rect x="762.5" y="369.5" width="61" height="18" fill="#fff" stroke="#f00" stroke-width="1" shape-rendering="crispEdges"/><text x="764.7" y="385" font-size="16.4" fill="#f00" textLength="57.2" lengthAdjust="spacingAndGlyphs">25985.5</text>
<rect x="984" y="112" width="10" height="1" fill="#f00" shape-rendering="crispEdges"/><rect x="922.5" y="103.5" width="61" height="18" fill="#fff" stroke="#f00" stroke-width="1" shape-rendering="crispEdges"/><text x="924.7" y="119" font-size="16.4" fill="#f00" textLength="57.2" lengthAdjust="spacingAndGlyphs">30137.4</text>
<rect x="1032" y="247" width="10" height="1" fill="#f00" shape-rendering="crispEdges"/><rect x="970.5" y="238.5" width="61" height="18" fill="#fff" stroke="#f00" stroke-width="1" shape-rendering="crispEdges"/><text x="972.7" y="254" font-size="16.4" fill="#f00" textLength="57.2" lengthAdjust="spacingAndGlyphs">28030.3</text>
<rect x="1120" y="51" width="10" height="1" fill="#f00" shape-rendering="crispEdges"/><rect x="1058.5" y="42.5" width="61" height="18" fill="#fff" stroke="#f00" stroke-width="1" shape-rendering="crispEdges"/><text x="1060.7" y="58" font-size="16.4" fill="#f00" textLength="57.2" lengthAdjust="spacingAndGlyphs">31089.6</text>
<rect x="1144" y="212" width="10" height="1" fill="#f00" shape-rendering="crispEdges"/><rect x="1082.5" y="203.5" width="61" height="18" fill="#fff" stroke="#f00" stroke-width="1" shape-rendering="crispEdges"/><text x="1084.7" y="219" font-size="16.4" fill="#f00" textLength="57.2" lengthAdjust="spacingAndGlyphs">28576.6</text>
<rect x="1232" y="232" width="10" height="1" fill="#f00" shape-rendering="crispEdges"/><rect x="1170.5" y="223.5" width="61" height="18" fill="#fff" stroke="#f00" stroke-width="1" shape-rendering="crispEdges"/><text x="1172.7" y="239" font-size="16.4" fill="#f00" textLength="57.2" lengthAdjust="spacingAndGlyphs">28264.4</text>
<rect x="1376" y="174" width="10" height="1" fill="#f00" shape-rendering="crispEdges"/><rect x="1314.5" y="165.5" width="61" height="18" fill="#fff" stroke="#f00" stroke-width="1" shape-rendering="crispEdges"/><text x="1316.7" y="181" font-size="16.4" fill="#f00" textLength="57.2" lengthAdjust="spacingAndGlyphs">29169.7</text>
<rect x="1328" y="282" width="10" height="1" fill="#f00" shape-rendering="crispEdges"/><rect x="1266.5" y="273.5" width="61" height="18" fill="#fff" stroke="#f00" stroke-width="1" shape-rendering="crispEdges"/><text x="1268.7" y="289" font-size="16.4" fill="#f00" textLength="57.2" lengthAdjust="spacingAndGlyphs">27484.0</text>
<rect x="1245" y="210" width="223" height="9" fill="#0f0" shape-rendering="crispEdges"/>
<rect x="1474.5" y="219.5" width="110" height="24" fill="#fff" stroke="#222" stroke-width="1" shape-rendering="crispEdges"/>
<rect x="1474" y="243" width="111" height="1" fill="#c8c040" shape-rendering="crispEdges"/>
<text x="1476" y="238.5" font-size="20" fill="#0f0" font-family="Liberation Serif, Noto Serif CJK SC, serif" textLength="105.5" lengthAdjust="spacing">多空转折点</text>
<line x1="1128.7" y1="59.1" x2="1224.9" y2="221.8" stroke="#f00" stroke-width="3"/><polygon points="1228,227 1219.8,221.4 1224.2,220.5 1227,217.1" fill="#f00" stroke="#f00" stroke-width="1" stroke-linejoin="miter"/>
<line x1="1228" y1="227" x2="1290.5" y2="151.1" stroke="#f00" stroke-width="3"/><polygon points="1294.3,146.5 1291.8,156.1 1289.5,152.3 1285.3,150.8" fill="#f00" stroke="#f00" stroke-width="1" stroke-linejoin="miter"/>
<line x1="1294.3" y1="146.5" x2="1326.2" y2="271" stroke="#f00" stroke-width="3"/><polygon points="1327.7,276.8 1321.4,269.1 1325.8,269.5 1329.5,267" fill="#f00" stroke="#f00" stroke-width="1" stroke-linejoin="miter"/>
<line x1="1331.5" y1="276.5" x2="1390.9" y2="186.4" stroke="#f00" stroke-width="3"/><polygon points="1394.2,181.4 1392.8,191.2 1390.1,187.7 1385.7,186.6" fill="#f00" stroke="#f00" stroke-width="1" stroke-linejoin="miter"/>
<line x1="1394.2" y1="181.4" x2="1420.3" y2="226" stroke="#f00" stroke-width="3"/><polygon points="1423.3,231.2 1415.1,225.5 1419.5,224.7 1422.4,221.3" fill="#f00" stroke="#f00" stroke-width="1" stroke-linejoin="miter"/>
<line x1="1246.3" y1="696.7" x2="1354.8" y2="719.6" stroke="#f00" stroke-width="3"/><polygon points="1360.3,720.8 1351.2,722.8 1353.5,719.4 1352.8,715.3" fill="#f00" stroke="#f00" stroke-width="1" stroke-linejoin="miter"/>
<line x1="1360.3" y1="720.8" x2="1412" y2="705.1" stroke="#f00" stroke-width="3"/><polygon points="1417.4,703.5 1410.4,709.6 1410.7,705.5 1408.2,702.3" fill="#f00" stroke="#f00" stroke-width="1" stroke-linejoin="miter"/>
<line x1="1417.4" y1="703.6" x2="1434.9" y2="703.8" stroke="#f00" stroke-width="3"/><polygon points="1440.5,703.8 1432,707.5 1433.5,703.7 1432,699.9" fill="#f00" stroke="#f00" stroke-width="1" stroke-linejoin="miter"/>
<line x1="1331" y1="861.5" x2="1386.1" y2="835.2" stroke="#f00" stroke-width="3"/><polygon points="1391.2,832.8 1385.2,839.9 1384.9,835.8 1381.9,833" fill="#f00" stroke="#f00" stroke-width="1" stroke-linejoin="miter"/>
<line x1="1391.2" y1="832.8" x2="1422.4" y2="844.7" stroke="#f00" stroke-width="3"/><polygon points="1427.6,846.7 1418.3,847.2 1421.1,844.2 1421,840.1" fill="#f00" stroke="#f00" stroke-width="1" stroke-linejoin="miter"/>
<path d="M1428.8 24 H1438.2 L1433.5 29 Z" fill="#c0c0c0"/>
</g>
<g id="axis" shape-rendering="crispEdges">
<rect x="1689" y="45" width="2" height="1" fill="#000"/>
<rect x="1689" y="78" width="2" height="1" fill="#000"/>
<rect x="1689" y="111" width="2" height="1" fill="#000"/>
<rect x="1689" y="144" width="2" height="1" fill="#000"/>
<rect x="1689" y="177" width="2" height="1" fill="#000"/>
<rect x="1689" y="210" width="2" height="1" fill="#000"/>
<rect x="1689" y="243" width="2" height="1" fill="#000"/>
<rect x="1689" y="276" width="2" height="1" fill="#000"/>
<rect x="1689" y="309" width="2" height="1" fill="#000"/>
<rect x="1689" y="342" width="2" height="1" fill="#000"/>
<rect x="1689" y="375" width="2" height="1" fill="#000"/>
<rect x="1689" y="408" width="2" height="1" fill="#000"/>
<rect x="1689" y="441" width="2" height="1" fill="#000"/>
<rect x="1689" y="474" width="2" height="1" fill="#000"/>
<rect x="1689" y="507" width="2" height="1" fill="#000"/>
<rect x="1689" y="540" width="2" height="1" fill="#000"/>
<rect x="1689" y="573" width="2" height="1" fill="#000"/>
<rect x="1689" y="579" width="2" height="1" fill="#000"/>
<rect x="1689" y="689" width="2" height="1" fill="#000"/>
<rect x="1689" y="174" width="2" height="1" fill="#000"/>
<rect x="1689" y="196" width="2" height="1" fill="#000"/>
<rect x="1689" y="212" width="2" height="1" fill="#000"/>
<rect x="1689" y="243" width="2" height="1" fill="#000"/>
<rect x="1689" y="259" width="2" height="1" fill="#000"/>
<rect x="1689" y="786" width="2" height="1" fill="#000"/>
<rect x="1689" y="837" width="2" height="1" fill="#000"/>
<rect x="1689" y="898" width="2" height="1" fill="#000"/>
<rect x="1" y="925" width="1" height="2" fill="#000"/>
<rect x="65" y="925" width="1" height="2" fill="#000"/>
<rect x="129" y="925" width="1" height="2" fill="#000"/>
<rect x="193" y="925" width="1" height="2" fill="#000"/>
<rect x="257" y="925" width="1" height="2" fill="#000"/>
<rect x="321" y="925" width="1" height="2" fill="#000"/>
<rect x="385" y="925" width="1" height="2" fill="#000"/>
<rect x="449" y="925" width="1" height="2" fill="#000"/>
<rect x="513" y="925" width="1" height="2" fill="#000"/>
<rect x="577" y="925" width="1" height="2" fill="#000"/>
<rect x="641" y="925" width="1" height="2" fill="#000"/>
<rect x="705" y="925" width="1" height="2" fill="#000"/>
<rect x="769" y="925" width="1" height="2" fill="#000"/>
<rect x="833" y="925" width="1" height="2" fill="#000"/>
<rect x="897" y="925" width="1" height="2" fill="#000"/>
<rect x="961" y="925" width="1" height="2" fill="#000"/>
<rect x="1025" y="925" width="1" height="2" fill="#000"/>
<rect x="1089" y="925" width="1" height="2" fill="#000"/>
<rect x="1153" y="925" width="1" height="2" fill="#000"/>
<rect x="1217" y="925" width="1" height="2" fill="#000"/>
<rect x="1281" y="925" width="1" height="2" fill="#000"/>
<rect x="1345" y="925" width="1" height="2" fill="#000"/>
<rect x="1409" y="925" width="1" height="2" fill="#000"/>
</g>
<g id="axistext">
<text x="1694" y="48.6" font-size="9.4" fill="#000" text-anchor="start" textLength="33" lengthAdjust="spacingAndGlyphs">31187.5</text>
<text x="1694" y="81.6" font-size="9.4" fill="#000" text-anchor="start" textLength="33" lengthAdjust="spacingAndGlyphs">30676.0</text>
<text x="1694" y="114.6" font-size="9.4" fill="#000" text-anchor="start" textLength="33" lengthAdjust="spacingAndGlyphs">30164.5</text>
<text x="1694" y="147.6" font-size="9.4" fill="#000" text-anchor="start" textLength="33" lengthAdjust="spacingAndGlyphs">29637.5</text>
<text x="1694" y="180.6" font-size="9.4" fill="#000" text-anchor="start" textLength="33" lengthAdjust="spacingAndGlyphs">29126.0</text>
<text x="1694" y="213.6" font-size="9.4" fill="#000" text-anchor="start" textLength="33" lengthAdjust="spacingAndGlyphs">28614.5</text>
<text x="1694" y="246.6" font-size="9.4" fill="#000" text-anchor="start" textLength="33" lengthAdjust="spacingAndGlyphs">28103.0</text>
<text x="1694" y="279.6" font-size="9.4" fill="#000" text-anchor="start" textLength="33" lengthAdjust="spacingAndGlyphs">27576.0</text>
<text x="1694" y="312.6" font-size="9.4" fill="#000" text-anchor="start" textLength="33" lengthAdjust="spacingAndGlyphs">27064.5</text>
<text x="1694" y="345.6" font-size="9.4" fill="#000" text-anchor="start" textLength="33" lengthAdjust="spacingAndGlyphs">26553.0</text>
<text x="1694" y="378.6" font-size="9.4" fill="#000" text-anchor="start" textLength="33" lengthAdjust="spacingAndGlyphs">26026.0</text>
<text x="1694" y="411.6" font-size="9.4" fill="#000" text-anchor="start" textLength="33" lengthAdjust="spacingAndGlyphs">25514.5</text>
<text x="1694" y="444.6" font-size="9.4" fill="#000" text-anchor="start" textLength="33" lengthAdjust="spacingAndGlyphs">25003.0</text>
<text x="1694" y="477.6" font-size="9.4" fill="#000" text-anchor="start" textLength="33" lengthAdjust="spacingAndGlyphs">24476.0</text>
<text x="1694" y="510.6" font-size="9.4" fill="#000" text-anchor="start" textLength="33" lengthAdjust="spacingAndGlyphs">23964.5</text>
<text x="1694" y="543.6" font-size="9.4" fill="#000" text-anchor="start" textLength="33" lengthAdjust="spacingAndGlyphs">23453.0</text>
<text x="1694" y="576.6" font-size="9.4" fill="#000" text-anchor="start" textLength="33" lengthAdjust="spacingAndGlyphs">22941.5</text>
<text x="1693" y="588.5" font-size="9.2" fill="#000" text-anchor="start" >905.5</text>
<text x="1693" y="692.5" font-size="9.2" fill="#000" text-anchor="start" >0.00</text>
<text x="1693" y="744.8" font-size="9.2" fill="#000" text-anchor="start" >-488.99</text>
<text x="1693" y="761" font-size="9.2" fill="#000" text-anchor="start" >100</text>
<text x="1693" y="789.7" font-size="9.2" fill="#000" text-anchor="start" >80</text>
<text x="1693" y="840.8" font-size="9.2" fill="#000" text-anchor="start" >50</text>
<text x="1693" y="901.5" font-size="9.2" fill="#000" text-anchor="start" >15</text>
<text x="1693" y="920.5" font-size="9.2" fill="#000" text-anchor="start" >0</text>
<text x="0.3" y="936.4" font-size="9.2" fill="#000" text-anchor="start" >24 Jul 2020</text>
<text x="64.3" y="936.4" font-size="9.2" fill="#000" text-anchor="start" >5 Aug 2020</text>
<text x="128.3" y="936.4" font-size="9.2" fill="#000" text-anchor="start" >17 Aug 2020</text>
<text x="192.3" y="936.4" font-size="9.2" fill="#000" text-anchor="start" >27 Aug 2020</text>
<text x="256.3" y="936.4" font-size="9.2" fill="#000" text-anchor="start" >8 Sep 2020</text>
<text x="320.3" y="936.4" font-size="9.2" fill="#000" text-anchor="start" >18 Sep 2020</text>
<text x="384.3" y="936.4" font-size="9.2" fill="#000" text-anchor="start" >30 Sep 2020</text>
<text x="448.3" y="936.4" font-size="9.2" fill="#000" text-anchor="start" >14 Oct 2020</text>
<text x="512.3" y="936.4" font-size="9.2" fill="#000" text-anchor="start" >27 Oct 2020</text>
<text x="576.3" y="936.4" font-size="9.2" fill="#000" text-anchor="start" >6 Nov 2020</text>
<text x="640.3" y="936.4" font-size="9.2" fill="#000" text-anchor="start" >18 Nov 2020</text>
<text x="704.3" y="936.4" font-size="9.2" fill="#000" text-anchor="start" >30 Nov 2020</text>
<text x="768.3" y="936.4" font-size="9.2" fill="#000" text-anchor="start" >10 Dec 2020</text>
<text x="832.3" y="936.4" font-size="9.2" fill="#000" text-anchor="start" >22 Dec 2020</text>
<text x="896.3" y="936.4" font-size="9.2" fill="#000" text-anchor="start" >5 Jan 2021</text>
<text x="960.3" y="936.4" font-size="9.2" fill="#000" text-anchor="start" >15 Jan 2021</text>
<text x="1024.3" y="936.4" font-size="9.2" fill="#000" text-anchor="start" >27 Jan 2021</text>
<text x="1088.3" y="936.4" font-size="9.2" fill="#000" text-anchor="start" >8 Feb 2021</text>
<text x="1152.3" y="936.4" font-size="9.2" fill="#000" text-anchor="start" >22 Feb 2021</text>
<text x="1216.3" y="936.4" font-size="9.2" fill="#000" text-anchor="start" >4 Mar 2021</text>
<text x="1280.3" y="936.4" font-size="9.2" fill="#000" text-anchor="start" >16 Mar 2021</text>
<text x="1344.3" y="936.4" font-size="9.2" fill="#000" text-anchor="start" >26 Mar 2021</text>
<text x="1408.3" y="936.4" font-size="9.2" fill="#000" text-anchor="start" >12 Apr 2021</text>
<rect x="1690" y="211" width="41" height="11" fill="#000" shape-rendering="crispEdges"/>
<text x="1694" y="218.9" font-size="9.4" fill="#fff" text-anchor="start" textLength="33" lengthAdjust="spacingAndGlyphs">28515.0</text>
<rect x="1690" y="168" width="41" height="11" fill="#f00" shape-rendering="crispEdges"/>
<text x="1694" y="175.9" font-size="9.4" fill="#fff" text-anchor="start" textLength="33" lengthAdjust="spacingAndGlyphs">29169.7</text>
<rect x="1690" y="190" width="41" height="11" fill="#f00" shape-rendering="crispEdges"/>
<text x="1694" y="197.9" font-size="9.4" fill="#fff" text-anchor="start" textLength="33" lengthAdjust="spacingAndGlyphs">28826.3</text>
<rect x="1690" y="206" width="41" height="11" fill="#32cd32" shape-rendering="crispEdges"/>
<text x="1694" y="213.9" font-size="9.4" fill="#fff" text-anchor="start" textLength="33" lengthAdjust="spacingAndGlyphs">28576.6</text>
<rect x="1690" y="237" width="41" height="11" fill="#00f" shape-rendering="crispEdges"/>
<text x="1694" y="244.9" font-size="9.4" fill="#fff" text-anchor="start" textLength="33" lengthAdjust="spacingAndGlyphs">28092.7</text>
<rect x="1690" y="253" width="41" height="11" fill="#00f" shape-rendering="crispEdges"/>
<text x="1694" y="260.9" font-size="9.4" fill="#fff" text-anchor="start" textLength="33" lengthAdjust="spacingAndGlyphs">27843.0</text>
</g>
<text x="16" y="34.2" font-size="9.6" fill="#000" text-anchor="start" textLength="50.7" lengthAdjust="spacingAndGlyphs">HK50-,Daily</text>
<text x="73.4" y="34.2" font-size="9.6" fill="#000" text-anchor="start" textLength="140.6" lengthAdjust="spacingAndGlyphs">28507.0 28834.0 28403.5 28515.0</text>
<path d="M4 34 L7.5 29.5 L11 34 Z" fill="#000"/>
<text x="5.2" y="591" font-size="9.2" fill="#000" text-anchor="start" textLength="133.7" lengthAdjust="spacingAndGlyphs">MACD(12,26,9) -136.08 -194.96</text>
<text x="5.2" y="763" font-size="9.2" fill="#000" text-anchor="start" textLength="67.7" lengthAdjust="spacingAndGlyphs">RSI(14) 47.4264</text>
<g id="tradepanel">
<defs><linearGradient id="redg" x1="0" y1="0" x2="0" y2="1"><stop offset="0" stop-color="#f54a4a"/><stop offset="0.45" stop-color="#d62828"/><stop offset="1" stop-color="#b00000"/></linearGradient></defs>
<path d="M4.5 43.5 H55 V67.5 H112.5 V106.5 H4.5 Z" fill="url(#redg)" stroke="#c01010" stroke-width="1"/>
<path d="M171.5 43.5 H222.5 V106.5 H115.5 V67.5 H171.5 Z" fill="url(#redg)" stroke="#c01010" stroke-width="1"/>
<rect x="8.5" y="66" width="43.5" height="1" fill="#f8a0a0"/>
<rect x="175" y="66" width="44" height="1" fill="#f8a0a0"/>
<rect x="58.5" y="43.5" width="110" height="21" fill="#fff" stroke="#a0a0a8" stroke-width="1"/>
<defs><linearGradient id="btng" x1="0" y1="0" x2="0" y2="1"><stop offset="0" stop-color="#f4f4f4"/><stop offset="0.5" stop-color="#dcdcdc"/><stop offset="1" stop-color="#c8c8c8"/></linearGradient></defs>
<rect x="59.5" y="44.5" width="19.5" height="19" fill="url(#btng)" stroke="#b8b8c0" stroke-width="0.8"/>
<rect x="148" y="44.5" width="19.5" height="19" fill="url(#btng)" stroke="#b8b8c0" stroke-width="0.8"/>
<path d="M66.5 52 H71.5 L69 55 Z" fill="#4a5ab8"/><path d="M155 55 H160 L157.500 52 Z" fill="#4a5ab8"/>
<text x="143.5" y="57.4" font-size="11.2" text-anchor="end" fill="#000">1.00</text>
<text x="16.3" y="58.8" font-size="11.5" fill="#fff" textLength="25.2" lengthAdjust="spacingAndGlyphs">SELL</text>
<text x="184.7" y="58.8" font-size="11.5" fill="#fff" textLength="22.3" lengthAdjust="spacingAndGlyphs">BUY</text>
<text x="20.5" y="97.6" font-size="10.6" font-weight="bold" fill="#fff" textLength="33.7" lengthAdjust="spacingAndGlyphs">28513</text>
<text x="130.4" y="97.6" font-size="10.6" font-weight="bold" fill="#fff" textLength="34.2" lengthAdjust="spacingAndGlyphs">28528</text>
<rect x="59.5" y="93.3" width="4.4" height="4.4" fill="#fff"/><rect x="170.4" y="93.3" width="4.4" height="4.4" fill="#fff"/>
<text x="66" y="97.6" font-size="33" fill="#fff" textLength="15.5" lengthAdjust="spacingAndGlyphs">5</text>
<text x="177.4" y="97.6" font-size="33" fill="#fff" textLength="15.5" lengthAdjust="spacingAndGlyphs">5</text>
</g>
</svg>
</body></html>
